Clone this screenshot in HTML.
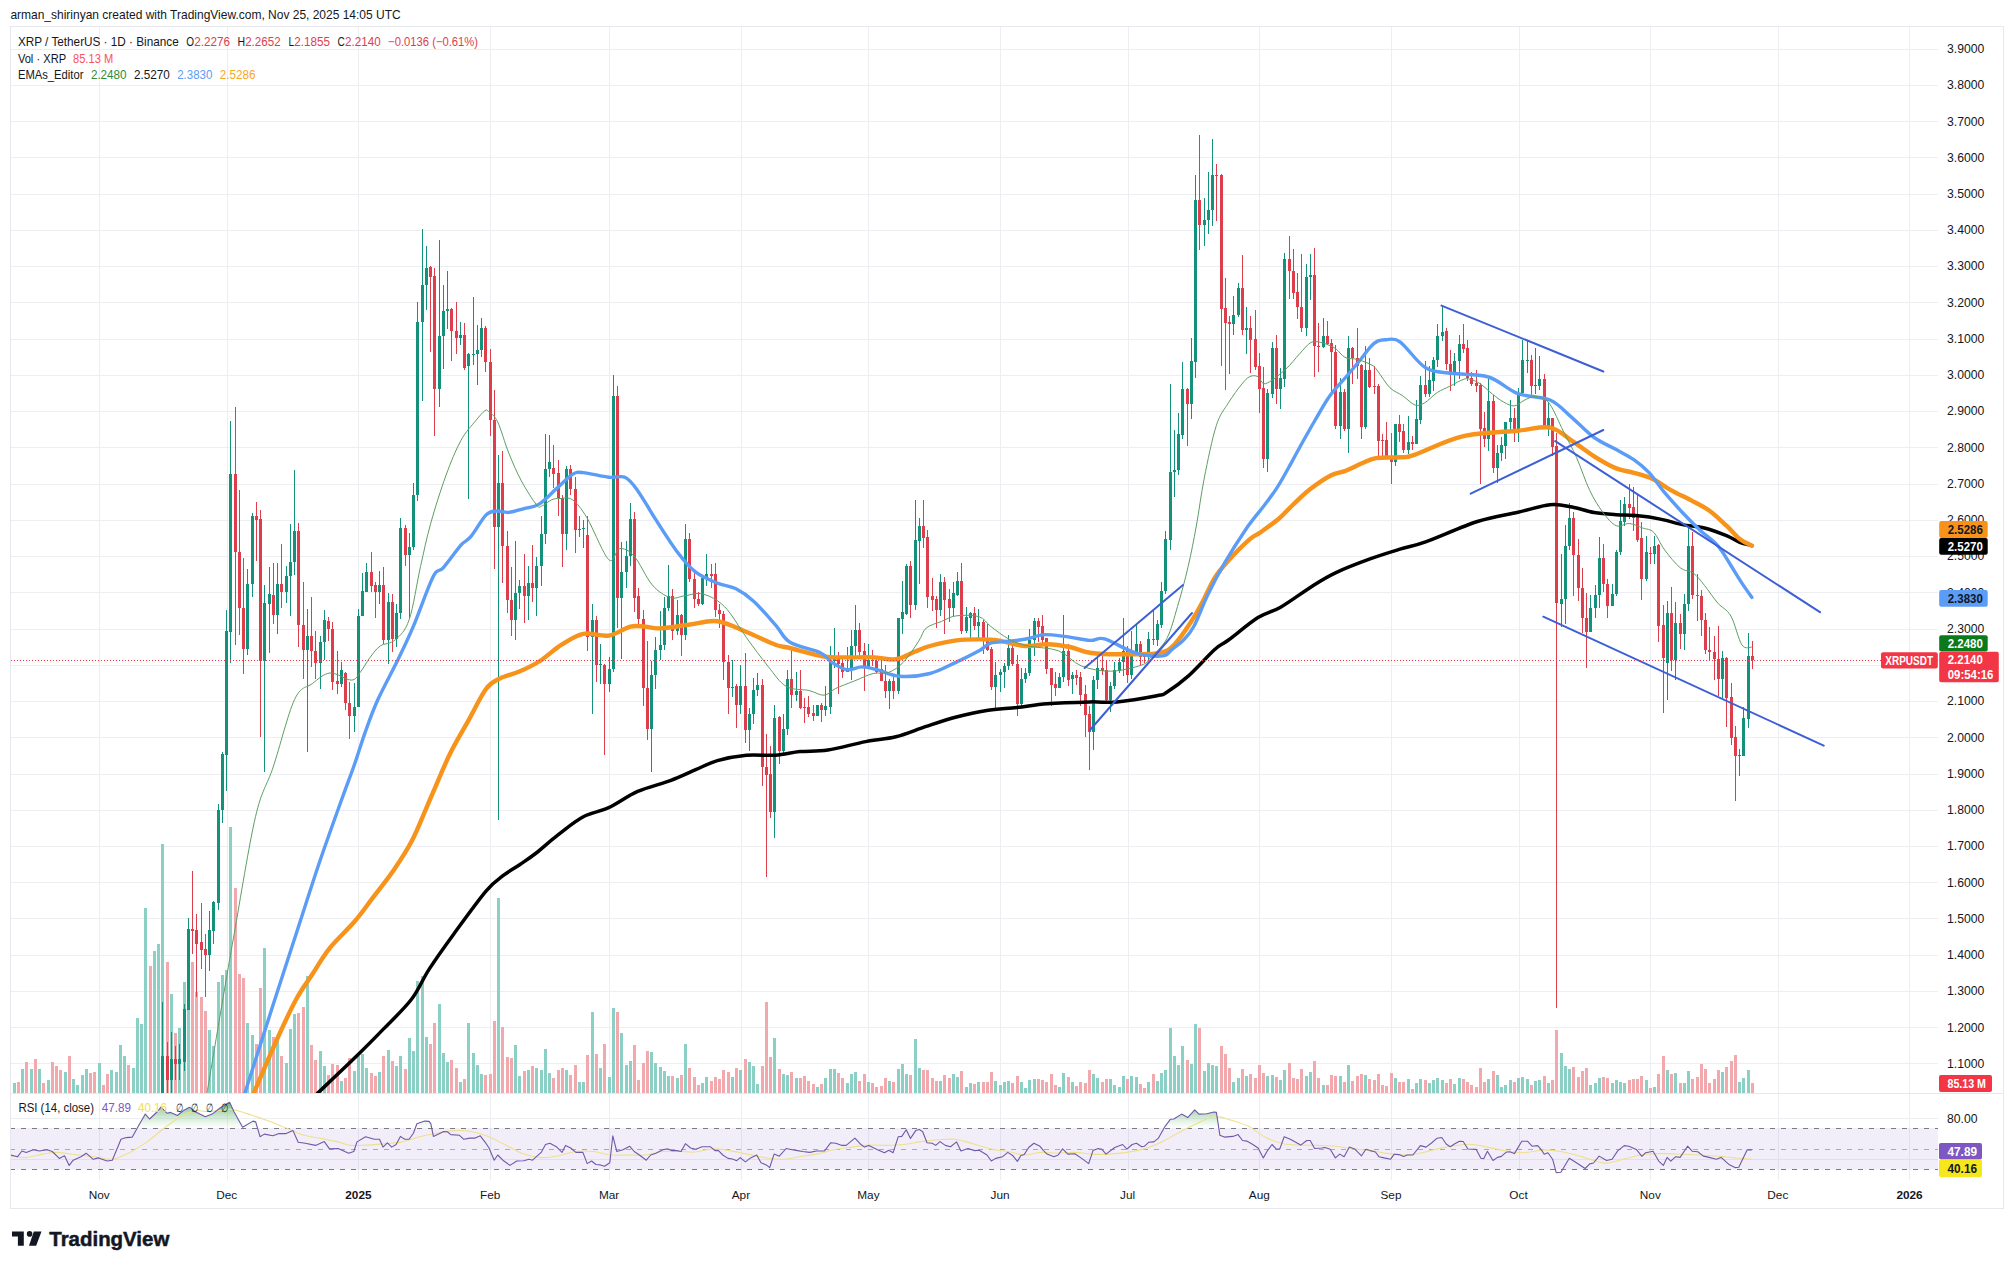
<!DOCTYPE html><html><head><meta charset="utf-8"><style>html,body{margin:0;padding:0;background:#fff;width:2014px;height:1269px;overflow:hidden}svg{display:block}text{font-family:'Liberation Sans',sans-serif}</style></head><body>
<svg width="2014" height="1269" viewBox="0 0 2014 1269">
<rect width="2014" height="1269" fill="#fff"/>
<text x="10.4" y="18.6" font-size="12.2" fill="#131722" textLength="390.3" lengthAdjust="spacingAndGlyphs">arman_shirinyan created with TradingView.com, Nov 25, 2025 14:05 UTC</text>
<rect x="10.5" y="26.5" width="1993" height="1182" fill="none" stroke="#E6E8ED" stroke-width="1"/>
<defs><clipPath id="pp"><rect x="11" y="27" width="1927" height="1066"/></clipPath><clipPath id="rp"><rect x="11" y="1094" width="1927" height="86"/></clipPath><linearGradient id="ob" gradientUnits="userSpaceOnUse" x1="0" y1="1098" x2="0" y2="1128.4"><stop offset="0" stop-color="#3E9F55" stop-opacity="0.95"/><stop offset="1" stop-color="#9ED8A0" stop-opacity="0"/></linearGradient></defs>
<path d="M11 49.5H1938 M11 85.5H1938 M11 121.5H1938 M11 157.5H1938 M11 194.5H1938 M11 230.5H1938 M11 266.5H1938 M11 302.5H1938 M11 339.5H1938 M11 375.5H1938 M11 411.5H1938 M11 447.5H1938 M11 484.5H1938 M11 520.5H1938 M11 556.5H1938 M11 592.5H1938 M11 629.5H1938 M11 665.5H1938 M11 701.5H1938 M11 737.5H1938 M11 774.5H1938 M11 810.5H1938 M11 846.5H1938 M11 882.5H1938 M11 918.5H1938 M11 955.5H1938 M11 991.5H1938 M11 1027.5H1938 M11 1063.5H1938" stroke="#EDEEF2" stroke-width="1" fill="none"/>
<path d="M11 1118.5H1938 M11 1159.5H1938" stroke="#EDEEF2" stroke-width="1"/>
<path d="M99.5 27V1180 M227.5 27V1180 M358.5 27V1180 M490.5 27V1180 M609.5 27V1180 M741.5 27V1180 M868.5 27V1180 M1000.5 27V1180 M1128.5 27V1180 M1259.5 27V1180 M1391.5 27V1180 M1519.5 27V1180 M1650.5 27V1180 M1778.5 27V1180 M1909.5 27V1180" stroke="#EDEEF2" stroke-width="1" fill="none"/>
<path d="M11 1093.5H2003" stroke="#E6E8ED" stroke-width="1"/>
<g clip-path="url(#pp)">
<path d="M8 1070h3V1093h-3Z M13 1083h3V1093h-3Z M21 1069h3V1093h-3Z M30 1069h3V1093h-3Z M38 1069h3V1093h-3Z M47 1080h3V1093h-3Z M64 1072h3V1093h-3Z M72 1079h3V1093h-3Z M76 1085h3V1093h-3Z M81 1075h3V1093h-3Z M85 1069h3V1093h-3Z M98 1063h3V1093h-3Z M110 1070h3V1093h-3Z M115 1072h3V1093h-3Z M119 1045h3V1093h-3Z M123 1056h3V1093h-3Z M132 1068h3V1093h-3Z M136 1018h3V1093h-3Z M140 1024h3V1093h-3Z M144 908h3V1093h-3Z M153 951h3V1093h-3Z M157 944h3V1093h-3Z M161 844h3V1093h-3Z M170 994h3V1093h-3Z M178 1028h3V1093h-3Z M183 982h3V1093h-3Z M187 960h3V1093h-3Z M208 1030h3V1093h-3Z M212 1046h3V1093h-3Z M217 982h3V1093h-3Z M221 975h3V1093h-3Z M225 970h3V1093h-3Z M229 827h3V1093h-3Z M246 1023h3V1093h-3Z M251 1035h3V1093h-3Z M263 948h3V1093h-3Z M268 1030h3V1093h-3Z M276 1041h3V1093h-3Z M285 1063h3V1093h-3Z M289 1029h3V1093h-3Z M293 1014h3V1093h-3Z M306 976h3V1093h-3Z M319 1051h3V1093h-3Z M323 1066h3V1093h-3Z M340 1081h3V1093h-3Z M353 1071h3V1093h-3Z M357 1056h3V1093h-3Z M361 1054h3V1093h-3Z M365 1068h3V1093h-3Z M378 1072h3V1093h-3Z M387 1050h3V1093h-3Z M395 1066h3V1093h-3Z M399 1056h3V1093h-3Z M408 1038h3V1093h-3Z M412 1051h3V1093h-3Z M416 981h3V1093h-3Z M421 976h3V1093h-3Z M425 1037h3V1093h-3Z M438 1004h3V1093h-3Z M442 1053h3V1093h-3Z M446 1062h3V1093h-3Z M459 1082h3V1093h-3Z M467 1023h3V1093h-3Z M472 1053h3V1093h-3Z M476 1065h3V1093h-3Z M480 1074h3V1093h-3Z M497 898h3V1093h-3Z M514 1045h3V1093h-3Z M518 1076h3V1093h-3Z M527 1070h3V1093h-3Z M535 1068h3V1093h-3Z M540 1070h3V1093h-3Z M544 1049h3V1093h-3Z M548 1073h3V1093h-3Z M565 1070h3V1093h-3Z M578 1082h3V1093h-3Z M582 1082h3V1093h-3Z M591 1012h3V1093h-3Z M599 1068h3V1093h-3Z M608 1077h3V1093h-3Z M612 1008h3V1093h-3Z M620 1033h3V1093h-3Z M625 1065h3V1093h-3Z M629 1061h3V1093h-3Z M650 1052h3V1093h-3Z M654 1063h3V1093h-3Z M659 1067h3V1093h-3Z M663 1071h3V1093h-3Z M667 1076h3V1093h-3Z M676 1078h3V1093h-3Z M684 1044h3V1093h-3Z M701 1083h3V1093h-3Z M705 1077h3V1093h-3Z M731 1077h3V1093h-3Z M739 1070h3V1093h-3Z M748 1062h3V1093h-3Z M752 1066h3V1093h-3Z M756 1084h3V1093h-3Z M773 1038h3V1093h-3Z M782 1074h3V1093h-3Z M786 1075h3V1093h-3Z M795 1078h3V1093h-3Z M816 1087h3V1093h-3Z M824 1078h3V1093h-3Z M829 1069h3V1093h-3Z M833 1069h3V1093h-3Z M846 1083h3V1093h-3Z M850 1074h3V1093h-3Z M854 1072h3V1093h-3Z M867 1082h3V1093h-3Z M888 1081h3V1093h-3Z M897 1069h3V1093h-3Z M901 1064h3V1093h-3Z M905 1074h3V1093h-3Z M914 1039h3V1093h-3Z M918 1068h3V1093h-3Z M939 1081h3V1093h-3Z M952 1074h3V1093h-3Z M956 1077h3V1093h-3Z M965 1087h3V1093h-3Z M969 1083h3V1093h-3Z M977 1082h3V1093h-3Z M994 1081h3V1093h-3Z M999 1085h3V1093h-3Z M1003 1082h3V1093h-3Z M1007 1081h3V1093h-3Z M1020 1082h3V1093h-3Z M1024 1088h3V1093h-3Z M1028 1080h3V1093h-3Z M1033 1079h3V1093h-3Z M1058 1087h3V1093h-3Z M1062 1073h3V1093h-3Z M1071 1082h3V1093h-3Z M1092 1074h3V1093h-3Z M1096 1078h3V1093h-3Z M1109 1079h3V1093h-3Z M1113 1085h3V1093h-3Z M1118 1087h3V1093h-3Z M1122 1076h3V1093h-3Z M1130 1076h3V1093h-3Z M1135 1077h3V1093h-3Z M1147 1082h3V1093h-3Z M1156 1081h3V1093h-3Z M1160 1073h3V1093h-3Z M1164 1070h3V1093h-3Z M1169 1028h3V1093h-3Z M1173 1056h3V1093h-3Z M1177 1065h3V1093h-3Z M1181 1046h3V1093h-3Z M1190 1064h3V1093h-3Z M1194 1024h3V1093h-3Z M1203 1071h3V1093h-3Z M1207 1063h3V1093h-3Z M1211 1065h3V1093h-3Z M1215 1066h3V1093h-3Z M1232 1082h3V1093h-3Z M1237 1078h3V1093h-3Z M1245 1076h3V1093h-3Z M1266 1076h3V1093h-3Z M1271 1075h3V1093h-3Z M1279 1080h3V1093h-3Z M1283 1070h3V1093h-3Z M1305 1076h3V1093h-3Z M1309 1072h3V1093h-3Z M1322 1085h3V1093h-3Z M1339 1076h3V1093h-3Z M1347 1065h3V1093h-3Z M1364 1075h3V1093h-3Z M1394 1078h3V1093h-3Z M1407 1079h3V1093h-3Z M1415 1083h3V1093h-3Z M1419 1079h3V1093h-3Z M1428 1083h3V1093h-3Z M1432 1080h3V1093h-3Z M1436 1078h3V1093h-3Z M1441 1080h3V1093h-3Z M1453 1084h3V1093h-3Z M1458 1078h3V1093h-3Z M1487 1079h3V1093h-3Z M1496 1075h3V1093h-3Z M1500 1087h3V1093h-3Z M1504 1085h3V1093h-3Z M1509 1080h3V1093h-3Z M1517 1078h3V1093h-3Z M1521 1077h3V1093h-3Z M1526 1079h3V1093h-3Z M1534 1081h3V1093h-3Z M1538 1080h3V1093h-3Z M1547 1083h3V1093h-3Z M1560 1053h3V1093h-3Z M1564 1066h3V1093h-3Z M1568 1069h3V1093h-3Z M1589 1085h3V1093h-3Z M1594 1083h3V1093h-3Z M1598 1078h3V1093h-3Z M1611 1083h3V1093h-3Z M1615 1080h3V1093h-3Z M1619 1082h3V1093h-3Z M1623 1083h3V1093h-3Z M1645 1080h3V1093h-3Z M1653 1087h3V1093h-3Z M1666 1070h3V1093h-3Z M1674 1073h3V1093h-3Z M1683 1083h3V1093h-3Z M1687 1071h3V1093h-3Z M1721 1072h3V1093h-3Z M1738 1082h3V1093h-3Z M1742 1078h3V1093h-3Z M1747 1070h3V1093h-3Z" fill="#8CCFC4"/>
<path d="M17 1082h3V1093h-3Z M25 1062h3V1093h-3Z M34 1059h3V1093h-3Z M42 1083h3V1093h-3Z M51 1062h3V1093h-3Z M55 1066h3V1093h-3Z M59 1070h3V1093h-3Z M68 1056h3V1093h-3Z M89 1073h3V1093h-3Z M93 1072h3V1093h-3Z M102 1085h3V1093h-3Z M106 1074h3V1093h-3Z M127 1065h3V1093h-3Z M149 966h3V1093h-3Z M166 962h3V1093h-3Z M174 1033h3V1093h-3Z M191 962h3V1093h-3Z M195 992h3V1093h-3Z M200 997h3V1093h-3Z M204 1011h3V1093h-3Z M234 888h3V1093h-3Z M238 974h3V1093h-3Z M242 978h3V1093h-3Z M255 1044h3V1093h-3Z M259 988h3V1093h-3Z M272 1037h3V1093h-3Z M280 1056h3V1093h-3Z M297 1013h3V1093h-3Z M302 1007h3V1093h-3Z M310 1045h3V1093h-3Z M314 1060h3V1093h-3Z M327 1075h3V1093h-3Z M331 1064h3V1093h-3Z M336 1065h3V1093h-3Z M344 1078h3V1093h-3Z M348 1058h3V1093h-3Z M370 1073h3V1093h-3Z M374 1076h3V1093h-3Z M382 1056h3V1093h-3Z M391 1061h3V1093h-3Z M404 1069h3V1093h-3Z M429 1044h3V1093h-3Z M433 1023h3V1093h-3Z M450 1060h3V1093h-3Z M455 1068h3V1093h-3Z M463 1079h3V1093h-3Z M484 1075h3V1093h-3Z M489 1074h3V1093h-3Z M493 1021h3V1093h-3Z M501 1027h3V1093h-3Z M506 1057h3V1093h-3Z M510 1058h3V1093h-3Z M523 1071h3V1093h-3Z M531 1066h3V1093h-3Z M552 1078h3V1093h-3Z M557 1070h3V1093h-3Z M561 1068h3V1093h-3Z M569 1075h3V1093h-3Z M574 1065h3V1093h-3Z M586 1055h3V1093h-3Z M595 1054h3V1093h-3Z M603 1044h3V1093h-3Z M616 1012h3V1093h-3Z M633 1045h3V1093h-3Z M637 1080h3V1093h-3Z M642 1063h3V1093h-3Z M646 1051h3V1093h-3Z M671 1076h3V1093h-3Z M680 1075h3V1093h-3Z M688 1068h3V1093h-3Z M693 1077h3V1093h-3Z M697 1085h3V1093h-3Z M710 1081h3V1093h-3Z M714 1077h3V1093h-3Z M718 1079h3V1093h-3Z M722 1070h3V1093h-3Z M727 1072h3V1093h-3Z M735 1068h3V1093h-3Z M744 1059h3V1093h-3Z M761 1066h3V1093h-3Z M765 1002h3V1093h-3Z M769 1057h3V1093h-3Z M778 1069h3V1093h-3Z M790 1072h3V1093h-3Z M799 1078h3V1093h-3Z M803 1076h3V1093h-3Z M807 1081h3V1093h-3Z M812 1084h3V1093h-3Z M820 1084h3V1093h-3Z M837 1073h3V1093h-3Z M841 1078h3V1093h-3Z M858 1081h3V1093h-3Z M863 1074h3V1093h-3Z M871 1083h3V1093h-3Z M875 1087h3V1093h-3Z M880 1086h3V1093h-3Z M884 1078h3V1093h-3Z M892 1082h3V1093h-3Z M909 1075h3V1093h-3Z M922 1070h3V1093h-3Z M926 1070h3V1093h-3Z M931 1078h3V1093h-3Z M935 1081h3V1093h-3Z M943 1075h3V1093h-3Z M948 1078h3V1093h-3Z M960 1071h3V1093h-3Z M973 1084h3V1093h-3Z M982 1082h3V1093h-3Z M986 1082h3V1093h-3Z M990 1072h3V1093h-3Z M1011 1083h3V1093h-3Z M1016 1076h3V1093h-3Z M1037 1079h3V1093h-3Z M1041 1080h3V1093h-3Z M1045 1082h3V1093h-3Z M1050 1074h3V1093h-3Z M1054 1085h3V1093h-3Z M1067 1077h3V1093h-3Z M1075 1086h3V1093h-3Z M1079 1082h3V1093h-3Z M1084 1083h3V1093h-3Z M1088 1070h3V1093h-3Z M1101 1082h3V1093h-3Z M1105 1079h3V1093h-3Z M1126 1079h3V1093h-3Z M1139 1084h3V1093h-3Z M1143 1088h3V1093h-3Z M1152 1074h3V1093h-3Z M1186 1060h3V1093h-3Z M1198 1028h3V1093h-3Z M1220 1046h3V1093h-3Z M1224 1054h3V1093h-3Z M1228 1068h3V1093h-3Z M1241 1069h3V1093h-3Z M1249 1074h3V1093h-3Z M1254 1078h3V1093h-3Z M1258 1065h3V1093h-3Z M1262 1073h3V1093h-3Z M1275 1077h3V1093h-3Z M1288 1063h3V1093h-3Z M1292 1078h3V1093h-3Z M1296 1079h3V1093h-3Z M1300 1069h3V1093h-3Z M1313 1061h3V1093h-3Z M1317 1078h3V1093h-3Z M1326 1085h3V1093h-3Z M1330 1075h3V1093h-3Z M1334 1076h3V1093h-3Z M1343 1082h3V1093h-3Z M1351 1081h3V1093h-3Z M1356 1076h3V1093h-3Z M1360 1074h3V1093h-3Z M1368 1079h3V1093h-3Z M1373 1080h3V1093h-3Z M1377 1074h3V1093h-3Z M1381 1085h3V1093h-3Z M1385 1086h3V1093h-3Z M1390 1073h3V1093h-3Z M1398 1082h3V1093h-3Z M1402 1082h3V1093h-3Z M1411 1089h3V1093h-3Z M1424 1080h3V1093h-3Z M1445 1083h3V1093h-3Z M1449 1079h3V1093h-3Z M1462 1079h3V1093h-3Z M1466 1082h3V1093h-3Z M1470 1085h3V1093h-3Z M1475 1087h3V1093h-3Z M1479 1068h3V1093h-3Z M1483 1082h3V1093h-3Z M1492 1071h3V1093h-3Z M1513 1082h3V1093h-3Z M1530 1085h3V1093h-3Z M1543 1076h3V1093h-3Z M1551 1080h3V1093h-3Z M1555 1030h3V1093h-3Z M1572 1067h3V1093h-3Z M1577 1077h3V1093h-3Z M1581 1071h3V1093h-3Z M1585 1068h3V1093h-3Z M1602 1077h3V1093h-3Z M1606 1078h3V1093h-3Z M1628 1080h3V1093h-3Z M1632 1079h3V1093h-3Z M1636 1079h3V1093h-3Z M1640 1076h3V1093h-3Z M1649 1088h3V1093h-3Z M1657 1074h3V1093h-3Z M1662 1056h3V1093h-3Z M1670 1074h3V1093h-3Z M1679 1083h3V1093h-3Z M1691 1079h3V1093h-3Z M1696 1077h3V1093h-3Z M1700 1064h3V1093h-3Z M1704 1069h3V1093h-3Z M1708 1083h3V1093h-3Z M1713 1079h3V1093h-3Z M1717 1070h3V1093h-3Z M1725 1067h3V1093h-3Z M1730 1061h3V1093h-3Z M1734 1055h3V1093h-3Z M1751 1083h3V1093h-3Z" fill="#F2A9AE"/>
<path d="M162 1002h1V1093h-1Z M171 1032h1V1093h-1Z M179 1044h1V1080h-1Z M184 1004h1V1071h-1Z M188 918h1V1010h-1Z M209 911h1V971h-1Z M213 901h1V944h-1Z M218 804h1V910h-1Z M222 752h1V823h-1Z M226 610h1V791h-1Z M230 421h1V663h-1Z M247 569h1V655h-1Z M252 513h1V597h-1Z M264 585h1V772h-1Z M269 567h1V653h-1Z M277 563h1V634h-1Z M286 566h1V603h-1Z M290 524h1V616h-1Z M294 470h1V575h-1Z M307 609h1V752h-1Z M320 636h1V689h-1Z M324 610h1V660h-1Z M341 662h1V687h-1Z M354 683h1V732h-1Z M358 609h1V707h-1Z M362 573h1V616h-1Z M366 563h1V592h-1Z M379 571h1V604h-1Z M388 593h1V664h-1Z M396 604h1V647h-1Z M400 518h1V619h-1Z M409 533h1V618h-1Z M413 483h1V550h-1Z M417 302h1V501h-1Z M422 229h1V401h-1Z M426 246h1V310h-1Z M439 240h1V407h-1Z M443 285h1V369h-1Z M447 271h1V329h-1Z M460 322h1V345h-1Z M468 353h1V499h-1Z M473 297h1V365h-1Z M477 325h1V385h-1Z M481 318h1V357h-1Z M498 455h1V820h-1Z M515 541h1V640h-1Z M519 580h1V609h-1Z M528 566h1V620h-1Z M536 557h1V616h-1Z M541 516h1V586h-1Z M545 434h1V544h-1Z M549 435h1V477h-1Z M566 466h1V550h-1Z M579 516h1V537h-1Z M583 520h1V548h-1Z M592 604h1V714h-1Z M600 644h1V684h-1Z M609 657h1V692h-1Z M613 375h1V672h-1Z M621 542h1V659h-1Z M626 541h1V588h-1Z M630 503h1V566h-1Z M651 661h1V772h-1Z M655 637h1V689h-1Z M660 611h1V660h-1Z M664 597h1V650h-1Z M668 565h1V611h-1Z M677 600h1V635h-1Z M685 524h1V640h-1Z M702 577h1V605h-1Z M706 554h1V586h-1Z M732 660h1V697h-1Z M740 665h1V714h-1Z M749 708h1V751h-1Z M753 678h1V724h-1Z M757 673h1V696h-1Z M774 705h1V838h-1Z M783 714h1V756h-1Z M787 670h1V735h-1Z M796 672h1V701h-1Z M817 705h1V716h-1Z M825 686h1V716h-1Z M830 646h1V714h-1Z M834 628h1V668h-1Z M847 647h1V672h-1Z M851 630h1V680h-1Z M855 605h1V658h-1Z M868 644h1V668h-1Z M889 679h1V709h-1Z M898 618h1V694h-1Z M902 581h1V634h-1Z M906 564h1V615h-1Z M915 500h1V610h-1Z M919 518h1V584h-1Z M940 574h1V616h-1Z M953 582h1V616h-1Z M957 572h1V596h-1Z M966 607h1V633h-1Z M970 612h1V641h-1Z M978 609h1V640h-1Z M995 662h1V708h-1Z M1000 669h1V692h-1Z M1004 663h1V688h-1Z M1008 635h1V670h-1Z M1021 668h1V708h-1Z M1025 668h1V683h-1Z M1029 629h1V676h-1Z M1034 618h1V656h-1Z M1059 673h1V688h-1Z M1063 615h1V682h-1Z M1072 672h1V694h-1Z M1093 676h1V750h-1Z M1097 658h1V689h-1Z M1110 682h1V712h-1Z M1114 662h1V689h-1Z M1119 658h1V673h-1Z M1123 618h1V676h-1Z M1131 631h1V679h-1Z M1136 625h1V656h-1Z M1148 632h1V660h-1Z M1157 620h1V646h-1Z M1161 582h1V628h-1Z M1165 531h1V594h-1Z M1170 384h1V550h-1Z M1174 430h1V497h-1Z M1178 413h1V475h-1Z M1182 362h1V439h-1Z M1191 338h1V419h-1Z M1195 175h1V378h-1Z M1204 198h1V246h-1Z M1208 172h1V234h-1Z M1212 139h1V226h-1Z M1233 296h1V335h-1Z M1238 283h1V317h-1Z M1246 307h1V354h-1Z M1267 389h1V472h-1Z M1272 342h1V398h-1Z M1280 368h1V409h-1Z M1284 253h1V387h-1Z M1306 264h1V336h-1Z M1310 254h1V300h-1Z M1323 318h1V348h-1Z M1340 378h1V439h-1Z M1348 336h1V453h-1Z M1365 346h1V429h-1Z M1395 424h1V466h-1Z M1408 416h1V454h-1Z M1416 400h1V444h-1Z M1420 376h1V424h-1Z M1429 366h1V397h-1Z M1433 357h1V391h-1Z M1437 324h1V367h-1Z M1442 306h1V341h-1Z M1454 353h1V386h-1Z M1459 335h1V379h-1Z M1488 376h1V451h-1Z M1497 445h1V483h-1Z M1501 437h1V461h-1Z M1505 422h1V459h-1Z M1510 400h1V430h-1Z M1518 388h1V442h-1Z M1522 340h1V396h-1Z M1527 341h1V373h-1Z M1535 348h1V394h-1Z M1539 356h1V390h-1Z M1548 402h1V436h-1Z M1561 554h1V627h-1Z M1565 525h1V624h-1Z M1569 503h1V550h-1Z M1590 595h1V632h-1Z M1595 585h1V618h-1Z M1599 537h1V608h-1Z M1612 584h1V606h-1Z M1616 550h1V596h-1Z M1620 500h1V555h-1Z M1624 497h1V526h-1Z M1646 536h1V581h-1Z M1654 536h1V564h-1Z M1667 601h1V700h-1Z M1675 602h1V680h-1Z M1684 594h1V650h-1Z M1688 527h1V611h-1Z M1722 651h1V698h-1Z M1739 749h1V776h-1Z M1743 707h1V756h-1Z M1748 633h1V728h-1Z" fill="#13917B"/>
<path d="M167 1042h1V1093h-1Z M175 1046h1V1080h-1Z M192 871h1V954h-1Z M196 914h1V997h-1Z M201 903h1V969h-1Z M205 934h1V997h-1Z M235 407h1V645h-1Z M239 490h1V635h-1Z M243 558h1V674h-1Z M256 502h1V561h-1Z M260 510h1V737h-1Z M273 563h1V624h-1Z M281 544h1V608h-1Z M298 523h1V647h-1Z M303 582h1V679h-1Z M311 597h1V667h-1Z M315 631h1V679h-1Z M328 617h1V641h-1Z M332 622h1V690h-1Z M337 651h1V694h-1Z M345 672h1V710h-1Z M349 682h1V739h-1Z M371 552h1V592h-1Z M375 582h1V618h-1Z M383 567h1V644h-1Z M392 594h1V652h-1Z M405 525h1V566h-1Z M430 266h1V352h-1Z M434 268h1V436h-1Z M451 308h1V361h-1Z M456 302h1V354h-1Z M464 323h1V370h-1Z M485 326h1V372h-1Z M490 349h1V436h-1Z M494 390h1V569h-1Z M502 451h1V583h-1Z M507 531h1V613h-1Z M511 567h1V636h-1Z M524 554h1V623h-1Z M532 545h1V602h-1Z M553 445h1V488h-1Z M558 460h1V516h-1Z M562 495h1V567h-1Z M570 465h1V495h-1Z M575 477h1V553h-1Z M587 516h1V651h-1Z M596 616h1V682h-1Z M604 664h1V755h-1Z M617 386h1V628h-1Z M634 512h1V612h-1Z M638 588h1V627h-1Z M643 610h1V706h-1Z M647 641h1V740h-1Z M672 589h1V640h-1Z M681 614h1V656h-1Z M689 533h1V582h-1Z M694 569h1V608h-1Z M698 592h1V606h-1Z M711 564h1V588h-1Z M715 563h1V617h-1Z M719 604h1V628h-1Z M723 611h1V680h-1Z M728 655h1V714h-1Z M736 684h1V728h-1Z M745 653h1V743h-1Z M762 679h1V786h-1Z M766 734h1V877h-1Z M770 746h1V818h-1Z M779 716h1V764h-1Z M791 647h1V708h-1Z M800 670h1V709h-1Z M804 698h1V723h-1Z M808 696h1V717h-1Z M813 705h1V721h-1Z M821 703h1V722h-1Z M838 652h1V694h-1Z M842 658h1V678h-1Z M859 623h1V657h-1Z M864 643h1V691h-1Z M872 650h1V666h-1Z M876 658h1V673h-1Z M881 658h1V681h-1Z M885 665h1V698h-1Z M893 676h1V699h-1Z M910 561h1V618h-1Z M923 500h1V548h-1Z M927 530h1V608h-1Z M932 578h1V611h-1Z M936 596h1V628h-1Z M944 577h1V634h-1Z M949 589h1V622h-1Z M961 563h1V634h-1Z M974 607h1V630h-1Z M983 620h1V654h-1Z M987 624h1V651h-1Z M991 647h1V690h-1Z M1012 640h1V666h-1Z M1017 655h1V716h-1Z M1038 618h1V642h-1Z M1042 615h1V645h-1Z M1046 638h1V674h-1Z M1051 668h1V706h-1Z M1055 672h1V696h-1Z M1068 644h1V686h-1Z M1076 670h1V685h-1Z M1080 672h1V706h-1Z M1085 685h1V737h-1Z M1089 706h1V770h-1Z M1102 655h1V675h-1Z M1106 660h1V701h-1Z M1127 646h1V683h-1Z M1140 641h1V665h-1Z M1144 653h1V663h-1Z M1153 610h1V645h-1Z M1187 388h1V446h-1Z M1199 135h1V250h-1Z M1216 164h1V221h-1Z M1221 174h1V366h-1Z M1225 278h1V390h-1Z M1229 316h1V374h-1Z M1242 255h1V335h-1Z M1250 316h1V373h-1Z M1255 310h1V370h-1Z M1259 353h1V413h-1Z M1263 367h1V468h-1Z M1276 335h1V404h-1Z M1289 236h1V299h-1Z M1293 249h1V299h-1Z M1297 273h1V319h-1Z M1301 254h1V332h-1Z M1314 248h1V377h-1Z M1318 323h1V372h-1Z M1327 321h1V345h-1Z M1331 339h1V395h-1Z M1335 345h1V429h-1Z M1344 389h1V431h-1Z M1352 347h1V384h-1Z M1357 328h1V379h-1Z M1361 364h1V439h-1Z M1369 358h1V388h-1Z M1374 366h1V394h-1Z M1378 384h1V457h-1Z M1382 434h1V460h-1Z M1386 422h1V459h-1Z M1391 433h1V484h-1Z M1399 415h1V442h-1Z M1403 424h1V453h-1Z M1412 436h1V450h-1Z M1425 361h1V397h-1Z M1446 328h1V370h-1Z M1450 350h1V391h-1Z M1463 324h1V353h-1Z M1467 340h1V381h-1Z M1471 372h1V386h-1Z M1476 370h1V392h-1Z M1480 383h1V484h-1Z M1484 412h1V447h-1Z M1493 395h1V473h-1Z M1514 408h1V442h-1Z M1531 355h1V396h-1Z M1544 374h1V428h-1Z M1552 418h1V456h-1Z M1556 433h1V1008h-1Z M1573 512h1V596h-1Z M1578 539h1V601h-1Z M1582 568h1V633h-1Z M1586 593h1V668h-1Z M1603 544h1V592h-1Z M1607 579h1V618h-1Z M1629 484h1V519h-1Z M1633 487h1V531h-1Z M1637 495h1V542h-1Z M1641 522h1V600h-1Z M1650 547h1V564h-1Z M1658 544h1V642h-1Z M1663 605h1V713h-1Z M1671 587h1V671h-1Z M1680 614h1V649h-1Z M1692 532h1V599h-1Z M1697 574h1V621h-1Z M1701 590h1V636h-1Z M1705 613h1V654h-1Z M1709 627h1V660h-1Z M1714 636h1V680h-1Z M1718 626h1V696h-1Z M1726 657h1V727h-1Z M1731 683h1V745h-1Z M1735 726h1V801h-1Z M1752 641h1V669h-1Z" fill="#DE3E4C"/>
<path d="M161 1056h3V1093h-3Z M170 1059h3V1080h-3Z M178 1059h3V1064h-3Z M183 1009h3V1062h-3Z M187 929h3V1010h-3Z M208 930h3V955h-3Z M212 902h3V931h-3Z M217 810h3V903h-3Z M221 754h3V810h-3Z M225 631h3V755h-3Z M229 474h3V632h-3Z M246 584h3V649h-3Z M251 516h3V584h-3Z M263 603h3V661h-3Z M268 594h3V604h-3Z M276 584h3V615h-3Z M285 576h3V592h-3Z M289 562h3V576h-3Z M293 531h3V562h-3Z M306 636h3V650h-3Z M319 642h3V663h-3Z M323 620h3V642h-3Z M340 670h3V684h-3Z M353 707h3V716h-3Z M357 616h3V707h-3Z M361 591h3V616h-3Z M365 572h3V592h-3Z M378 585h3V592h-3Z M387 602h3V640h-3Z M395 613h3V639h-3Z M399 528h3V613h-3Z M408 547h3V555h-3Z M412 495h3V547h-3Z M416 322h3V495h-3Z M421 285h3V322h-3Z M425 268h3V285h-3Z M438 336h3V389h-3Z M442 311h3V336h-3Z M446 309h3V311h-3Z M459 335h3V338h-3Z M467 354h3V366h-3Z M472 354h3V355h-3Z M476 350h3V354h-3Z M480 328h3V350h-3Z M497 483h3V527h-3Z M514 593h3V620h-3Z M518 586h3V593h-3Z M527 583h3V596h-3Z M535 566h3V588h-3Z M540 534h3V566h-3Z M544 469h3V534h-3Z M548 462h3V469h-3Z M565 469h3V534h-3Z M578 529h3V530h-3Z M582 528h3V529h-3Z M591 620h3V637h-3Z M599 664h3V665h-3Z M608 669h3V684h-3Z M612 396h3V669h-3Z M620 572h3V598h-3Z M625 556h3V572h-3Z M629 519h3V556h-3Z M650 675h3V729h-3Z M654 650h3V675h-3Z M659 645h3V650h-3Z M663 608h3V645h-3Z M667 596h3V608h-3Z M676 615h3V631h-3Z M684 539h3V635h-3Z M701 578h3V604h-3Z M705 574h3V578h-3Z M731 687h3V688h-3Z M739 686h3V705h-3Z M748 714h3V730h-3Z M752 690h3V714h-3Z M756 685h3V690h-3Z M773 718h3V812h-3Z M782 729h3V751h-3Z M786 679h3V729h-3Z M795 691h3V695h-3Z M816 705h3V716h-3Z M824 706h3V710h-3Z M829 660h3V707h-3Z M833 659h3V661h-3Z M846 669h3V672h-3Z M850 646h3V669h-3Z M854 630h3V646h-3Z M867 660h3V668h-3Z M888 681h3V691h-3Z M897 618h3V691h-3Z M901 612h3V619h-3Z M905 566h3V614h-3Z M914 540h3V605h-3Z M918 526h3V541h-3Z M939 582h3V610h-3Z M952 593h3V608h-3Z M956 581h3V595h-3Z M965 617h3V631h-3Z M969 613h3V618h-3Z M977 622h3V626h-3Z M994 675h3V687h-3Z M999 672h3V675h-3Z M1003 666h3V672h-3Z M1007 648h3V666h-3Z M1020 679h3V704h-3Z M1024 673h3V679h-3Z M1028 640h3V673h-3Z M1033 621h3V640h-3Z M1058 677h3V688h-3Z M1062 651h3V677h-3Z M1071 675h3V679h-3Z M1092 680h3V732h-3Z M1096 668h3V680h-3Z M1109 686h3V700h-3Z M1113 670h3V686h-3Z M1118 662h3V671h-3Z M1122 651h3V662h-3Z M1130 652h3V675h-3Z M1135 644h3V652h-3Z M1147 639h3V657h-3Z M1156 624h3V640h-3Z M1160 591h3V625h-3Z M1164 539h3V591h-3Z M1169 472h3V540h-3Z M1173 470h3V472h-3Z M1177 434h3V470h-3Z M1181 389h3V435h-3Z M1190 361h3V404h-3Z M1194 200h3V362h-3Z M1203 220h3V225h-3Z M1207 210h3V220h-3Z M1211 175h3V210h-3Z M1232 315h3V324h-3Z M1237 288h3V315h-3Z M1245 328h3V330h-3Z M1266 393h3V459h-3Z M1271 348h3V394h-3Z M1279 378h3V389h-3Z M1283 259h3V379h-3Z M1305 277h3V328h-3Z M1309 275h3V277h-3Z M1322 336h3V347h-3Z M1339 392h3V426h-3Z M1347 348h3V429h-3Z M1364 370h3V427h-3Z M1394 424h3V462h-3Z M1407 442h3V450h-3Z M1415 419h3V444h-3Z M1419 385h3V420h-3Z M1428 380h3V394h-3Z M1432 360h3V381h-3Z M1436 336h3V360h-3Z M1441 332h3V336h-3Z M1453 361h3V375h-3Z M1458 344h3V361h-3Z M1487 401h3V439h-3Z M1496 453h3V468h-3Z M1500 445h3V453h-3Z M1504 422h3V446h-3Z M1509 418h3V422h-3Z M1517 393h3V430h-3Z M1521 360h3V393h-3Z M1526 360h3V361h-3Z M1534 385h3V386h-3Z M1538 379h3V386h-3Z M1547 418h3V428h-3Z M1560 599h3V604h-3Z M1564 546h3V599h-3Z M1568 518h3V546h-3Z M1589 608h3V632h-3Z M1594 595h3V608h-3Z M1598 558h3V595h-3Z M1611 594h3V606h-3Z M1615 552h3V594h-3Z M1619 521h3V552h-3Z M1623 504h3V522h-3Z M1645 552h3V579h-3Z M1653 546h3V554h-3Z M1666 613h3V663h-3Z M1674 623h3V660h-3Z M1683 604h3V634h-3Z M1687 546h3V604h-3Z M1721 658h3V679h-3Z M1738 755h3V756h-3Z M1742 718h3V756h-3Z M1747 656h3V719h-3Z" fill="#13917B"/>
<path d="M166 1056h3V1080h-3Z M174 1059h3V1064h-3Z M191 929h3V931h-3Z M195 930h3V944h-3Z M200 942h3V950h-3Z M204 949h3V955h-3Z M234 474h3V552h-3Z M238 552h3V608h-3Z M242 608h3V649h-3Z M255 516h3V520h-3Z M259 519h3V661h-3Z M272 595h3V615h-3Z M280 584h3V592h-3Z M297 531h3V625h-3Z M302 625h3V650h-3Z M310 636h3V651h-3Z M314 651h3V663h-3Z M327 621h3V629h-3Z M331 629h3V682h-3Z M336 681h3V684h-3Z M344 673h3V703h-3Z M348 703h3V716h-3Z M370 572h3V586h-3Z M374 585h3V592h-3Z M382 585h3V640h-3Z M391 602h3V639h-3Z M404 528h3V555h-3Z M429 267h3V277h-3Z M433 276h3V389h-3Z M450 309h3V331h-3Z M455 331h3V338h-3Z M463 335h3V368h-3Z M484 328h3V362h-3Z M489 362h3V420h-3Z M493 420h3V527h-3Z M501 483h3V546h-3Z M506 546h3V600h-3Z M510 600h3V620h-3Z M523 586h3V596h-3Z M531 583h3V588h-3Z M552 468h3V474h-3Z M557 473h3V498h-3Z M561 498h3V534h-3Z M569 469h3V489h-3Z M574 489h3V530h-3Z M586 535h3V637h-3Z M595 620h3V665h-3Z M603 665h3V684h-3Z M616 396h3V598h-3Z M633 519h3V598h-3Z M637 596h3V619h-3Z M642 619h3V688h-3Z M646 688h3V729h-3Z M671 596h3V631h-3Z M680 615h3V635h-3Z M688 539h3V579h-3Z M693 579h3V599h-3Z M697 599h3V604h-3Z M710 574h3V576h-3Z M714 574h3V610h-3Z M718 610h3V614h-3Z M722 614h3V662h-3Z M727 662h3V688h-3Z M735 686h3V705h-3Z M744 686h3V730h-3Z M761 685h3V767h-3Z M765 767h3V775h-3Z M769 774h3V812h-3Z M778 717h3V751h-3Z M790 679h3V695h-3Z M799 691h3V708h-3Z M803 707h3V708h-3Z M807 707h3V714h-3Z M812 713h3V716h-3Z M820 705h3V710h-3Z M837 659h3V664h-3Z M841 663h3V672h-3Z M858 630h3V652h-3Z M863 651h3V668h-3Z M871 660h3V661h-3Z M875 661h3V672h-3Z M880 669h3V681h-3Z M884 681h3V691h-3Z M892 681h3V691h-3Z M909 566h3V605h-3Z M922 526h3V538h-3Z M926 537h3V597h-3Z M931 596h3V600h-3Z M935 599h3V610h-3Z M943 582h3V600h-3Z M948 599h3V608h-3Z M960 581h3V631h-3Z M973 613h3V626h-3Z M982 622h3V639h-3Z M986 638h3V650h-3Z M990 649h3V687h-3Z M1011 648h3V664h-3Z M1016 664h3V704h-3Z M1037 621h3V627h-3Z M1041 626h3V640h-3Z M1045 638h3V669h-3Z M1050 668h3V685h-3Z M1054 684h3V688h-3Z M1067 651h3V680h-3Z M1075 675h3V678h-3Z M1079 677h3V695h-3Z M1084 694h3V715h-3Z M1088 714h3V732h-3Z M1101 668h3V671h-3Z M1105 670h3V700h-3Z M1126 651h3V675h-3Z M1139 644h3V657h-3Z M1143 655h3V657h-3Z M1152 639h3V640h-3Z M1186 389h3V404h-3Z M1198 200h3V225h-3Z M1215 175h3V176h-3Z M1220 175h3V309h-3Z M1224 308h3V323h-3Z M1228 322h3V324h-3Z M1241 288h3V330h-3Z M1249 328h3V340h-3Z M1254 339h3V367h-3Z M1258 366h3V389h-3Z M1262 388h3V459h-3Z M1275 348h3V389h-3Z M1288 259h3V271h-3Z M1292 271h3V293h-3Z M1296 292h3V307h-3Z M1300 307h3V328h-3Z M1313 275h3V346h-3Z M1317 346h3V347h-3Z M1326 336h3V344h-3Z M1330 343h3V352h-3Z M1334 352h3V426h-3Z M1343 392h3V429h-3Z M1351 348h3V358h-3Z M1356 358h3V366h-3Z M1360 365h3V427h-3Z M1368 370h3V387h-3Z M1373 386h3V387h-3Z M1377 386h3V441h-3Z M1381 440h3V441h-3Z M1385 440h3V457h-3Z M1390 457h3V462h-3Z M1398 424h3V432h-3Z M1402 431h3V450h-3Z M1411 442h3V444h-3Z M1424 385h3V394h-3Z M1445 331h3V364h-3Z M1449 364h3V375h-3Z M1462 344h3V349h-3Z M1466 348h3V378h-3Z M1470 378h3V384h-3Z M1475 383h3V386h-3Z M1479 385h3V429h-3Z M1483 428h3V439h-3Z M1492 401h3V468h-3Z M1513 418h3V430h-3Z M1530 360h3V386h-3Z M1543 379h3V428h-3Z M1551 418h3V447h-3Z M1555 446h3V603h-3Z M1572 518h3V555h-3Z M1577 555h3V588h-3Z M1581 588h3V618h-3Z M1585 618h3V632h-3Z M1602 558h3V584h-3Z M1606 584h3V606h-3Z M1628 504h3V508h-3Z M1632 507h3V518h-3Z M1636 517h3V540h-3Z M1640 538h3V579h-3Z M1649 553h3V554h-3Z M1657 545h3V626h-3Z M1662 625h3V658h-3Z M1670 613h3V660h-3Z M1679 623h3V634h-3Z M1691 546h3V595h-3Z M1696 595h3V596h-3Z M1700 596h3V620h-3Z M1704 620h3V650h-3Z M1708 650h3V652h-3Z M1713 652h3V659h-3Z M1717 659h3V679h-3Z M1725 658h3V698h-3Z M1730 697h3V738h-3Z M1734 737h3V756h-3Z M1751 656h3V660h-3Z" fill="#DE3E4C"/>
<path d="M317.5 1093.3 C323.7 1087.4 343.9 1068.4 354.8 1057.8 C365.7 1047.2 373.7 1039.2 383.1 1029.4 C392.6 1019.7 403.8 1009.3 411.5 999.3 C419.2 989.2 422.1 980.0 429.2 969.1 C436.3 958.2 444.5 946.7 454.0 933.7 C463.5 920.7 477.7 900.9 486.0 891.1 C494.3 881.4 498.0 879.6 503.7 875.2 C509.4 870.8 514.6 868.2 520.0 864.5 C525.4 860.8 529.9 857.9 536.2 853.0 C542.5 848.1 550.1 840.9 558.0 834.9 C565.9 828.9 574.8 821.3 583.3 816.8 C591.8 812.3 599.6 811.9 608.7 807.7 C617.8 803.5 627.4 795.9 637.7 791.4 C648.0 786.9 660.6 784.2 670.3 780.6 C680.0 777.0 687.9 773.0 695.7 769.7 C703.6 766.4 709.0 763.0 717.4 760.6 C725.8 758.2 736.7 756.1 746.4 755.2 C756.1 754.3 766.5 755.8 775.4 755.2 C784.3 754.6 791.3 752.5 800.0 751.6 C808.7 750.8 816.8 751.8 827.8 750.1 C838.8 748.4 854.4 743.8 865.7 741.6 C877.1 739.4 885.8 739.3 895.9 736.8 C906.0 734.3 916.1 729.7 926.2 726.4 C936.3 723.1 946.3 719.7 956.4 717.0 C966.5 714.3 976.6 712.0 986.7 710.4 C996.8 708.8 1006.9 708.6 1017.0 707.5 C1027.1 706.4 1035.0 704.6 1047.2 703.7 C1059.4 702.8 1078.4 702.2 1090.0 701.9 C1101.6 701.6 1105.8 703.0 1116.9 702.0 C1128.1 701.0 1148.6 697.4 1156.9 695.8 C1165.2 694.2 1161.6 695.5 1166.8 692.2 C1172.0 688.9 1180.2 683.2 1188.2 676.1 C1196.2 669.0 1208.3 655.3 1215.0 649.3 C1221.7 643.3 1221.3 645.3 1228.5 640.0 C1235.7 634.7 1249.3 623.1 1258.0 617.6 C1266.7 612.1 1271.6 612.4 1280.6 607.2 C1289.6 602.0 1302.6 592.2 1311.8 586.4 C1321.0 580.6 1326.2 577.2 1336.0 572.6 C1345.8 568.0 1360.0 562.6 1370.7 558.7 C1381.4 554.8 1390.8 552.0 1400.0 549.2 C1409.2 546.4 1412.7 546.5 1425.6 541.9 C1438.5 537.3 1462.0 526.5 1477.4 521.5 C1492.8 516.5 1506.0 515.0 1518.1 512.2 C1530.2 509.4 1541.0 505.7 1550.0 504.8 C1559.0 503.9 1564.7 505.7 1572.0 507.0 C1579.3 508.3 1586.7 511.2 1594.1 512.5 C1601.5 513.8 1608.8 514.2 1616.2 514.7 C1623.6 515.2 1630.9 515.1 1638.2 515.8 C1645.5 516.5 1652.9 517.6 1660.3 519.1 C1667.7 520.6 1675.1 523.1 1682.4 524.6 C1689.8 526.1 1697.1 526.1 1704.4 528.0 C1711.8 529.9 1720.6 533.3 1726.5 535.7 C1732.4 538.1 1735.5 540.6 1739.7 542.3 C1743.9 543.9 1749.9 545.0 1751.9 545.6" fill="none" stroke="#000" stroke-width="3.5" stroke-linejoin="round" stroke-linecap="round"/>
<path d="M253.7 1093.3 C257.5 1084.4 269.6 1055.7 276.7 1040.0 C283.8 1024.3 290.3 1010.2 296.2 999.3 C302.1 988.4 306.6 983.1 312.2 974.5 C317.8 965.9 322.8 956.8 329.9 947.9 C337.0 939.0 347.7 929.6 354.8 921.3 C361.9 913.0 366.0 906.8 372.5 898.2 C379.0 889.6 387.3 879.4 393.8 869.9 C400.3 860.4 406.2 851.5 411.5 841.5 C416.8 831.5 421.6 819.1 425.7 809.6 C429.8 800.1 432.2 794.3 436.3 784.8 C440.4 775.3 445.2 763.4 450.5 752.8 C455.8 742.1 462.3 731.5 468.2 720.9 C474.1 710.3 480.7 696.1 486.0 689.0 C491.3 681.9 494.4 681.4 500.1 678.4 C505.8 675.4 513.4 674.2 520.0 671.3 C526.6 668.4 533.0 665.4 539.9 661.0 C546.8 656.6 554.4 649.2 561.6 644.7 C568.8 640.2 575.4 635.3 583.3 633.8 C591.1 632.3 600.9 636.8 608.7 635.6 C616.6 634.4 624.4 628.1 630.4 626.6 C636.4 625.1 640.2 626.3 645.0 626.6 C649.8 626.9 652.2 628.7 659.4 628.4 C666.6 628.1 678.7 626.0 688.4 624.8 C698.1 623.6 707.7 620.0 717.4 621.2 C727.1 622.4 736.7 628.1 746.4 632.0 C756.1 635.9 768.1 642.0 775.4 644.7 C782.7 647.4 781.9 646.0 790.0 648.0 C798.1 650.0 814.5 654.9 824.0 656.5 C833.5 658.1 838.5 657.2 846.7 657.4 C854.9 657.5 865.0 657.1 873.2 657.4 C881.4 657.7 889.0 660.2 895.9 659.3 C902.8 658.3 909.1 653.9 914.8 651.7 C920.5 649.5 923.1 647.9 930.0 646.0 C936.9 644.1 948.2 641.5 956.4 640.4 C964.6 639.3 972.2 639.4 979.1 639.4 C986.0 639.4 990.4 639.3 998.0 640.4 C1005.6 641.5 1016.3 645.4 1024.5 646.0 C1032.7 646.6 1039.6 644.0 1047.2 644.2 C1054.8 644.4 1062.8 645.6 1069.9 647.0 C1077.0 648.4 1081.7 651.5 1090.0 652.7 C1098.3 653.9 1108.3 654.3 1120.0 654.3 C1131.7 654.3 1150.8 654.5 1159.9 652.8 C1169.0 651.1 1169.7 649.0 1174.8 644.0 C1179.9 639.0 1185.8 629.8 1190.4 622.8 C1195.0 615.8 1198.5 609.5 1202.5 602.0 C1206.5 594.5 1210.4 584.7 1214.7 577.8 C1219.0 570.9 1222.7 566.8 1228.5 560.4 C1234.3 554.0 1244.1 544.2 1249.3 539.6 C1254.5 535.0 1254.9 536.2 1259.8 532.7 C1264.7 529.2 1273.3 523.4 1278.8 518.8 C1284.3 514.2 1287.5 509.9 1292.7 505.0 C1297.9 500.1 1303.7 494.2 1310.0 489.3 C1316.3 484.4 1325.0 478.5 1330.8 475.5 C1336.6 472.5 1339.5 473.1 1344.7 471.1 C1349.9 469.1 1356.8 465.5 1362.0 463.3 C1367.2 461.1 1369.6 459.1 1375.9 458.1 C1382.2 457.1 1393.6 457.9 1400.0 457.3 C1406.4 456.8 1404.0 458.3 1414.4 454.8 C1424.8 451.3 1445.3 440.3 1462.6 436.3 C1479.9 432.3 1503.5 432.1 1518.1 430.7 C1532.7 429.2 1541.0 425.9 1550.0 427.6 C1559.0 429.3 1564.7 436.0 1572.0 440.8 C1579.3 445.6 1586.7 451.7 1594.1 456.3 C1601.5 460.9 1609.6 465.6 1616.2 468.4 C1622.8 471.1 1627.5 471.0 1633.8 472.8 C1640.0 474.6 1647.5 476.5 1653.7 479.4 C1660.0 482.3 1665.0 486.9 1671.3 490.4 C1677.5 493.9 1685.0 497.1 1691.2 500.4 C1697.5 503.7 1702.9 506.1 1708.8 510.3 C1714.7 514.5 1721.3 520.9 1726.5 525.7 C1731.7 530.5 1735.5 535.7 1739.7 539.0 C1743.9 542.3 1749.9 544.5 1751.9 545.6" fill="none" stroke="#F7931A" stroke-width="4.4" stroke-linejoin="round" stroke-linecap="round"/>
<path d="M244.8 1093.3 C249.5 1078.5 264.6 1031.2 273.2 1004.6 C281.8 978.0 288.5 957.3 296.2 933.7 C303.9 910.1 311.9 884.7 319.3 862.8 C326.7 840.9 334.7 819.0 340.6 802.5 C346.5 786.0 350.7 775.3 354.8 763.5 C358.9 751.7 361.6 742.2 365.4 731.6 C369.2 721.0 372.3 711.9 377.7 700.0 C383.1 688.1 391.9 672.1 397.8 660.0 C403.7 647.9 407.1 641.1 413.0 627.2 C418.9 613.3 428.1 586.6 433.1 576.7 C438.1 566.8 438.6 573.1 443.2 567.9 C447.8 562.6 456.3 550.5 460.9 545.2 C465.5 540.0 466.8 541.5 471.0 536.4 C475.2 531.3 481.9 519.1 486.1 514.9 C490.3 510.7 492.4 511.5 496.2 511.1 C500.0 510.7 504.2 512.8 508.8 512.4 C513.4 512.0 519.0 510.0 524.0 508.6 C529.0 507.2 533.6 507.5 539.1 504.1 C544.6 500.7 551.1 493.3 556.7 488.4 C562.3 483.4 568.1 477.0 572.5 474.4 C576.9 471.8 577.3 472.1 583.3 472.6 C589.3 473.1 601.8 476.5 608.7 477.3 C615.7 478.1 620.2 475.1 625.0 477.3 C629.8 479.5 632.6 483.6 637.7 490.7 C642.8 497.8 649.2 509.4 655.8 519.7 C662.4 530.0 670.9 543.5 677.5 552.3 C684.1 561.0 689.1 567.1 695.7 572.2 C702.4 577.3 710.8 580.4 717.4 583.1 C724.0 585.8 729.5 585.6 735.5 588.6 C741.5 591.6 747.0 595.2 753.6 601.2 C760.2 607.2 769.3 617.9 775.4 624.8 C781.5 631.6 782.5 637.6 790.0 642.3 C797.5 646.9 813.4 649.4 820.3 652.7 C827.2 656.0 827.2 659.3 831.6 662.1 C836.0 664.9 841.7 668.9 846.7 669.7 C851.8 670.5 856.9 666.9 861.9 666.9 C866.9 666.9 870.7 668.1 877.0 669.7 C883.3 671.3 890.9 675.7 899.7 676.3 C908.5 676.9 920.5 675.9 930.0 673.5 C939.5 671.1 948.2 665.9 956.4 662.1 C964.6 658.3 973.4 653.9 979.1 650.8 C984.8 647.6 985.5 644.8 990.5 643.2 C995.5 641.6 1003.1 642.1 1009.4 641.3 C1015.7 640.5 1022.6 639.6 1028.3 638.5 C1034.0 637.4 1037.1 635.0 1043.4 634.7 C1049.7 634.4 1058.4 635.7 1066.2 636.6 C1074.0 637.5 1083.6 640.0 1090.0 640.4 C1096.4 640.8 1097.0 636.8 1104.6 638.9 C1112.1 641.0 1125.6 650.0 1135.3 652.8 C1145.0 655.6 1156.9 656.5 1163.0 655.9 C1169.1 655.3 1168.6 651.9 1172.0 649.3 C1175.4 646.6 1179.8 643.8 1183.5 640.0 C1187.2 636.2 1189.9 633.8 1193.9 626.3 C1197.9 618.8 1202.5 605.8 1207.7 595.1 C1212.9 584.4 1218.7 573.2 1225.1 562.2 C1231.5 551.2 1239.6 538.5 1245.9 529.2 C1252.2 520.0 1258.0 513.6 1263.2 506.7 C1268.4 499.8 1272.5 494.8 1277.1 487.6 C1281.7 480.4 1287.0 470.5 1291.0 463.3 C1295.0 456.1 1297.4 451.5 1301.4 444.3 C1305.4 437.1 1310.5 428.0 1315.2 420.0 C1319.9 412.0 1324.2 403.6 1329.4 396.4 C1334.6 389.1 1341.2 382.6 1346.4 376.5 C1351.6 370.4 1356.6 364.4 1360.6 359.5 C1364.6 354.6 1367.7 349.9 1370.5 346.8 C1373.3 343.7 1375.0 342.3 1377.6 341.1 C1380.2 339.9 1382.4 339.6 1386.1 339.7 C1389.8 339.8 1393.4 337.1 1400.0 341.8 C1406.6 346.5 1417.0 362.6 1425.6 367.8 C1434.2 373.1 1441.0 371.8 1451.5 373.3 C1462.0 374.8 1477.4 373.6 1488.5 377.0 C1499.6 380.4 1507.8 389.9 1518.1 393.7 C1528.3 397.5 1541.0 396.0 1550.0 400.0 C1559.0 404.0 1564.7 411.4 1572.0 417.6 C1579.3 423.9 1586.7 432.2 1594.1 437.5 C1601.5 442.8 1609.6 445.9 1616.2 449.6 C1622.8 453.3 1628.3 455.7 1633.8 459.6 C1639.3 463.5 1644.1 467.3 1649.3 472.8 C1654.5 478.3 1659.2 486.1 1664.7 492.7 C1670.2 499.3 1676.5 506.2 1682.4 512.5 C1688.3 518.8 1694.1 524.7 1700.0 530.2 C1705.9 535.7 1712.5 539.7 1717.7 545.6 C1722.9 551.5 1726.9 559.2 1730.9 565.5 C1734.9 571.8 1738.4 577.8 1741.9 583.1 C1745.4 588.4 1750.2 595.0 1751.9 597.4" fill="none" stroke="#5B9CF6" stroke-width="3.4" stroke-linejoin="round" stroke-linecap="round"/>
<path d="M207.0 1093.0 C209.2 1080.2 215.5 1042.5 220.0 1016.0 C224.5 989.5 228.3 966.9 234.2 933.7 C240.1 900.5 249.0 844.5 255.5 816.7 C262.0 788.9 266.7 786.5 273.2 767.0 C279.7 747.5 288.0 713.5 294.5 699.6 C301.0 685.7 306.3 688.1 312.2 683.7 C318.1 679.3 323.5 673.6 330.0 673.0 C336.5 672.4 346.2 680.2 351.2 680.1 C356.2 680.0 356.9 676.4 360.0 672.6 C363.1 668.8 366.7 661.8 370.1 657.4 C373.5 653.0 376.0 648.9 380.2 646.0 C384.4 643.1 390.5 644.2 395.3 639.8 C400.1 635.4 405.0 631.8 409.2 619.6 C413.4 607.4 416.9 582.6 420.5 566.6 C424.1 550.6 426.4 538.9 430.6 523.8 C434.8 508.7 440.8 489.7 445.8 475.8 C450.9 461.9 455.9 449.7 460.9 440.5 C465.9 431.3 472.0 425.3 476.0 420.4 C480.0 415.4 482.7 412.3 484.8 410.8 C486.9 409.3 486.5 409.7 488.6 411.5 C490.7 413.3 494.1 414.7 497.5 421.6 C500.9 428.5 504.8 443.2 508.8 453.1 C512.8 463.0 516.8 472.3 521.4 480.9 C526.0 489.5 533.1 500.6 536.5 504.8 C539.9 509.0 539.1 506.9 541.6 506.1 C544.1 505.3 548.6 501.1 551.7 499.8 C554.8 498.5 556.5 498.5 560.0 498.5 C563.5 498.5 568.0 496.6 572.5 499.8 C577.0 503.0 581.0 507.9 587.0 517.9 C593.0 527.9 603.3 554.5 608.7 559.6 C614.1 564.7 615.4 549.3 619.6 548.7 C623.8 548.1 628.6 549.9 634.0 555.9 C639.4 561.9 646.2 577.9 652.2 584.9 C658.2 591.9 664.9 595.8 670.3 597.6 C675.7 599.4 679.4 596.4 684.8 595.8 C690.2 595.2 696.3 592.2 702.9 594.0 C709.5 595.8 717.4 599.5 724.6 606.7 C731.9 614.0 739.1 627.5 746.4 637.5 C753.6 647.5 761.5 658.2 768.1 666.4 C774.7 674.5 779.4 682.4 786.2 686.4 C793.0 690.4 802.6 689.0 808.9 690.5 C815.2 692.0 819.6 695.5 824.0 695.2 C828.4 694.9 830.4 691.0 835.4 688.6 C840.4 686.2 848.0 683.5 854.3 681.0 C860.6 678.5 867.5 674.9 873.2 673.5 C878.9 672.1 883.4 674.4 888.4 672.5 C893.4 670.6 898.5 667.3 903.5 662.1 C908.5 656.9 914.8 647.0 918.6 641.3 C922.4 635.6 922.4 631.4 926.2 628.1 C930.0 624.8 936.3 623.5 941.3 621.5 C946.3 619.5 950.1 616.6 956.4 615.8 C962.7 615.0 973.4 615.0 979.1 616.7 C984.8 618.4 985.5 622.4 990.5 626.2 C995.5 630.0 1003.1 636.1 1009.4 639.4 C1015.7 642.7 1020.1 644.1 1028.3 646.0 C1036.5 647.9 1049.8 647.5 1058.6 650.8 C1067.4 654.1 1072.6 662.5 1081.3 665.9 C1090.0 669.3 1100.7 671.3 1110.7 671.2 C1120.7 671.1 1134.8 667.4 1141.5 665.1 C1148.2 662.8 1146.5 661.7 1150.7 657.3 C1154.9 652.9 1162.3 647.1 1166.8 638.6 C1171.3 630.1 1173.9 618.5 1177.5 606.5 C1181.1 594.5 1185.1 579.7 1188.2 566.3 C1191.3 552.9 1193.6 540.8 1196.3 526.1 C1199.0 511.4 1201.0 494.6 1204.3 477.9 C1207.6 461.1 1212.3 438.1 1216.3 425.6 C1220.3 413.1 1224.2 409.8 1228.4 402.9 C1232.7 396.0 1238.2 388.5 1241.8 384.1 C1245.4 379.7 1247.1 377.9 1249.8 376.6 C1252.5 375.4 1255.3 375.4 1257.9 376.6 C1260.5 377.8 1261.0 384.8 1265.6 383.6 C1270.2 382.4 1279.7 374.5 1285.4 369.5 C1291.1 364.5 1295.3 358.3 1299.6 353.8 C1303.8 349.3 1307.4 344.4 1310.9 342.5 C1314.5 340.6 1316.9 341.6 1320.9 342.5 C1324.9 343.4 1331.0 345.7 1335.0 348.2 C1339.0 350.7 1341.2 355.5 1345.0 357.4 C1348.8 359.3 1353.3 358.2 1357.8 359.5 C1362.3 360.8 1368.7 363.3 1372.0 365.2 C1375.3 367.1 1374.6 367.1 1377.6 370.9 C1380.6 374.7 1385.8 383.7 1390.0 387.8 C1394.2 391.9 1398.4 392.8 1402.6 395.7 C1406.8 398.6 1411.5 403.9 1415.2 405.1 C1418.9 406.3 1421.0 404.9 1424.7 402.8 C1428.4 400.7 1433.1 395.3 1437.3 392.5 C1441.5 389.7 1445.4 388.4 1449.9 386.2 C1454.4 384.0 1460.4 380.2 1464.1 379.1 C1467.8 378.1 1469.1 379.0 1472.0 379.9 C1474.9 380.8 1478.0 382.2 1481.4 384.6 C1484.8 387.0 1488.8 391.2 1492.5 394.1 C1496.2 397.0 1499.8 400.0 1503.5 402.0 C1507.2 404.0 1511.1 406.2 1514.5 405.9 C1517.9 405.6 1521.1 401.8 1524.0 400.4 C1526.9 398.9 1529.3 397.7 1531.9 397.2 C1534.5 396.7 1536.7 396.0 1539.7 397.2 C1542.7 398.4 1546.1 398.8 1550.0 404.4 C1553.9 410.0 1558.8 422.1 1563.2 430.9 C1567.6 439.7 1572.1 447.5 1576.5 457.4 C1580.9 467.3 1585.3 481.2 1589.7 490.4 C1594.1 499.6 1598.6 506.6 1603.0 512.5 C1607.4 518.4 1611.8 523.9 1616.2 525.7 C1620.6 527.5 1625.0 523.1 1629.4 523.5 C1633.8 523.9 1638.7 526.5 1642.7 528.0 C1646.8 529.5 1650.0 528.7 1653.7 532.4 C1657.4 536.1 1660.3 544.1 1664.7 550.0 C1669.1 555.9 1675.4 563.8 1680.2 567.7 C1685.0 571.6 1689.4 570.3 1693.4 573.2 C1697.4 576.1 1700.4 580.3 1704.4 585.3 C1708.5 590.3 1713.3 597.9 1717.7 603.0 C1722.1 608.1 1726.9 609.0 1730.9 616.0 C1734.9 623.0 1738.4 639.7 1741.9 644.9 C1745.4 650.1 1750.2 646.7 1751.9 647.1" fill="none" stroke="#5E9E63" stroke-width="1" stroke-linejoin="round"/>
<path d="M1441.5 305.6L1603.3 371.5" stroke="#3D5FD6" stroke-width="2" stroke-linecap="round"/>
<path d="M1470.7 493.7L1603.3 430.0" stroke="#3D5FD6" stroke-width="2" stroke-linecap="round"/>
<path d="M1555.2 441.1L1820.0 612.2" stroke="#3D5FD6" stroke-width="2" stroke-linecap="round"/>
<path d="M1543.3 616.7L1823.7 745.6" stroke="#3D5FD6" stroke-width="2" stroke-linecap="round"/>
<path d="M1084.6 668.1L1183.0 585.1" stroke="#3D5FD6" stroke-width="2" stroke-linecap="round"/>
<path d="M1090.0 730.0L1192.0 613.0" stroke="#3D5FD6" stroke-width="2" stroke-linecap="round"/>
<path d="M11 660.5H1938" stroke="#F23645" stroke-width="1" stroke-dasharray="1 2"/>
</g>
<text x="17.9" y="45.9" font-size="12.2" fill="#131722" textLength="160.8" lengthAdjust="spacingAndGlyphs">XRP / TetherUS · 1D · Binance</text>
<text x="186.2" y="45.9" font-size="12.2" fill="#131722" textLength="7.8" lengthAdjust="spacingAndGlyphs">O</text>
<text x="194.2" y="45.9" font-size="12.2" fill="#DE3E4C" textLength="35.8" lengthAdjust="spacingAndGlyphs">2.2276</text>
<text x="237.4" y="45.9" font-size="12.2" fill="#131722" textLength="7.6" lengthAdjust="spacingAndGlyphs">H</text>
<text x="245.2" y="45.9" font-size="12.2" fill="#DE3E4C" textLength="35.4" lengthAdjust="spacingAndGlyphs">2.2652</text>
<text x="288.4" y="45.9" font-size="12.2" fill="#131722" textLength="5.6" lengthAdjust="spacingAndGlyphs">L</text>
<text x="294.3" y="45.9" font-size="12.2" fill="#DE3E4C" textLength="35.7" lengthAdjust="spacingAndGlyphs">2.1855</text>
<text x="337.5" y="45.9" font-size="12.2" fill="#131722" textLength="7.3" lengthAdjust="spacingAndGlyphs">C</text>
<text x="345.0" y="45.9" font-size="12.2" fill="#DE3E4C" textLength="35.7" lengthAdjust="spacingAndGlyphs">2.2140</text>
<text x="388.1" y="45.9" font-size="12.2" fill="#DE3E4C" textLength="90.0" lengthAdjust="spacingAndGlyphs">−0.0136 (−0.61%)</text>
<text x="17.9" y="62.7" font-size="12.2" fill="#131722" textLength="48.2" lengthAdjust="spacingAndGlyphs">Vol · XRP</text>
<text x="73.0" y="62.7" font-size="12.2" fill="#F7525F" textLength="40.2" lengthAdjust="spacingAndGlyphs">85.13 M</text>
<text x="17.9" y="79.4" font-size="12.2" fill="#131722" textLength="65.5" lengthAdjust="spacingAndGlyphs">EMAs_Editor</text>
<text x="90.9" y="79.4" font-size="12.2" fill="#2E8B3A" textLength="35.7" lengthAdjust="spacingAndGlyphs">2.2480</text>
<text x="134.0" y="79.4" font-size="12.2" fill="#131722" textLength="35.8" lengthAdjust="spacingAndGlyphs">2.5270</text>
<text x="177.2" y="79.4" font-size="12.2" fill="#5B9CF6" textLength="35.2" lengthAdjust="spacingAndGlyphs">2.3830</text>
<text x="219.8" y="79.4" font-size="12.2" fill="#F5A623" textLength="35.8" lengthAdjust="spacingAndGlyphs">2.5286</text>
<text x="1947" y="53.0" font-size="12.2" fill="#131722">3.9000</text><text x="1947" y="89.2" font-size="12.2" fill="#131722">3.8000</text><text x="1947" y="125.5" font-size="12.2" fill="#131722">3.7000</text><text x="1947" y="161.7" font-size="12.2" fill="#131722">3.6000</text><text x="1947" y="198.0" font-size="12.2" fill="#131722">3.5000</text><text x="1947" y="234.2" font-size="12.2" fill="#131722">3.4000</text><text x="1947" y="270.4" font-size="12.2" fill="#131722">3.3000</text><text x="1947" y="306.7" font-size="12.2" fill="#131722">3.2000</text><text x="1947" y="342.9" font-size="12.2" fill="#131722">3.1000</text><text x="1947" y="379.2" font-size="12.2" fill="#131722">3.0000</text><text x="1947" y="415.4" font-size="12.2" fill="#131722">2.9000</text><text x="1947" y="451.6" font-size="12.2" fill="#131722">2.8000</text><text x="1947" y="487.9" font-size="12.2" fill="#131722">2.7000</text><text x="1947" y="524.1" font-size="12.2" fill="#131722">2.6000</text><text x="1947" y="560.4" font-size="12.2" fill="#131722">2.5000</text><text x="1947" y="596.6" font-size="12.2" fill="#131722">2.4000</text><text x="1947" y="632.8" font-size="12.2" fill="#131722">2.3000</text><text x="1947" y="669.1" font-size="12.2" fill="#131722">2.2000</text><text x="1947" y="705.3" font-size="12.2" fill="#131722">2.1000</text><text x="1947" y="741.6" font-size="12.2" fill="#131722">2.0000</text><text x="1947" y="777.8" font-size="12.2" fill="#131722">1.9000</text><text x="1947" y="814.0" font-size="12.2" fill="#131722">1.8000</text><text x="1947" y="850.3" font-size="12.2" fill="#131722">1.7000</text><text x="1947" y="886.5" font-size="12.2" fill="#131722">1.6000</text><text x="1947" y="922.8" font-size="12.2" fill="#131722">1.5000</text><text x="1947" y="959.0" font-size="12.2" fill="#131722">1.4000</text><text x="1947" y="995.2" font-size="12.2" fill="#131722">1.3000</text><text x="1947" y="1031.5" font-size="12.2" fill="#131722">1.2000</text><text x="1947" y="1067.7" font-size="12.2" fill="#131722">1.1000</text>
<rect x="1939.2" y="521.0" width="48.5" height="17.0" rx="2" fill="#F7931A"/>
<text x="1947.7" y="534.0" font-size="12.2" fill="#131722" textLength="35.1" lengthAdjust="spacingAndGlyphs" font-weight="bold">2.5286</text>
<rect x="1939.2" y="538.0" width="48.5" height="16.7" rx="2" fill="#000000"/>
<text x="1947.7" y="550.8" font-size="12.2" fill="#fff" textLength="35.1" lengthAdjust="spacingAndGlyphs" font-weight="bold">2.5270</text>
<rect x="1939.2" y="590.1" width="48.5" height="16.6" rx="2" fill="#5B9CF6"/>
<text x="1947.7" y="603.0" font-size="12.2" fill="#131722" textLength="35.1" lengthAdjust="spacingAndGlyphs" font-weight="bold">2.3830</text>
<rect x="1939.2" y="635.2" width="48.5" height="16.2" rx="2" fill="#0B7A1A"/>
<text x="1947.7" y="647.6" font-size="12.2" fill="#fff" textLength="35.1" lengthAdjust="spacingAndGlyphs" font-weight="bold">2.2480</text>
<rect x="1939.2" y="651.8" width="59.6" height="30.5" rx="2" fill="#F23645"/>
<text x="1947.7" y="664.3" font-size="12.2" fill="#fff" textLength="35.1" lengthAdjust="spacingAndGlyphs" font-weight="bold">2.2140</text>
<text x="1947.7" y="679.3" font-size="12.2" fill="#fff" textLength="45.7" lengthAdjust="spacingAndGlyphs" font-weight="bold">09:54:16</text>
<rect x="1881.0" y="652.3" width="56.8" height="16.3" rx="2" fill="#F23645"/>
<text x="1885.3" y="664.6" font-size="12.2" fill="#fff" textLength="47.8" lengthAdjust="spacingAndGlyphs" font-weight="bold">XRPUSDT</text>
<rect x="1939.0" y="1075.0" width="53.0" height="17.0" rx="2" fill="#F23645"/>
<text x="1947.5" y="1088.0" font-size="12.2" fill="#fff" textLength="38.5" lengthAdjust="spacingAndGlyphs" font-weight="bold">85.13 M</text>
<rect x="11" y="1128" width="1927" height="41.5" fill="#7E57C2" fill-opacity="0.1"/>
<path d="M11 1128.5H1938 M11 1169.5H1938" stroke="#787B86" stroke-width="1" stroke-dasharray="5 6" stroke-dashoffset="1"/>
<path d="M11 1149.5H1938" stroke="#787B86" stroke-opacity="0.6" stroke-width="1" stroke-dasharray="5 6" stroke-dashoffset="1"/>
<g clip-path="url(#rp)">
<clipPath id="ob70"><rect x="11" y="1094" width="1927" height="34.4"/></clipPath>
<path d="M10.6 1155.0 L17.6 1156.7 L21.9 1151.0 L26.2 1152.4 L33.2 1149.7 L39.3 1151.0 L47.1 1149.7 L52.3 1151.5 L59.3 1158.4 L64.5 1155.8 L69.2 1165.4 L73.2 1160.2 L81.0 1156.7 L86.2 1153.2 L93.2 1159.3 L98.4 1157.9 L107.1 1161.0 L112.3 1160.2 L121.0 1139.3 L126.2 1137.6 L132.3 1137.1 L138.3 1126.3 L145.3 1114.1 L149.6 1119.0 L157.5 1111.5 L160.9 1107.2 L167.0 1113.2 L170.5 1112.4 L177.4 1115.5 L183.5 1110.6 L189.6 1107.2 L194.8 1111.5 L205.3 1116.7 L212.2 1114.1 L220.0 1108.0 L229.6 1102.3 L233.9 1111.5 L242.6 1127.2 L253.0 1121.1 L255.7 1121.9 L260.0 1136.7 L264.3 1134.1 L273.0 1135.8 L279.1 1133.6 L286.1 1133.6 L293.0 1130.6 L298.2 1142.3 L305.2 1143.3 L315.6 1145.4 L324.3 1141.6 L329.5 1148.9 L338.2 1148.5 L348.6 1153.2 L353.8 1151.5 L357.0 1141.9 L365.6 1136.7 L374.3 1139.3 L379.5 1139.3 L383.0 1147.1 L387.4 1142.8 L391.7 1147.1 L396.1 1144.5 L400.4 1136.4 L404.7 1139.3 L409.1 1139.3 L413.4 1133.2 L416.9 1123.7 L424.7 1121.1 L429.1 1121.4 L430.8 1123.7 L433.4 1136.4 L438.6 1134.1 L443.8 1131.5 L447.3 1131.8 L450.8 1134.6 L459.5 1135.3 L463.8 1139.3 L469.9 1138.1 L475.1 1138.1 L480.3 1135.8 L485.6 1142.8 L489.0 1148.0 L494.2 1160.2 L497.7 1155.0 L502.9 1160.2 L509.9 1165.4 L516.8 1161.0 L523.8 1160.7 L529.0 1159.3 L532.5 1160.2 L541.2 1152.4 L545.5 1144.5 L549.9 1143.3 L556.8 1147.1 L562.0 1152.4 L565.5 1145.4 L570.7 1148.0 L575.9 1152.4 L582.9 1152.4 L587.2 1163.6 L591.6 1161.0 L595.9 1164.5 L600.3 1164.9 L604.6 1166.3 L609.8 1162.8 L612.8 1135.8 L616.8 1151.5 L622.9 1149.7 L629.8 1146.3 L634.2 1151.5 L639.4 1155.0 L646.3 1160.2 L650.7 1155.0 L655.9 1153.2 L662.8 1149.7 L668.0 1148.9 L671.5 1150.6 L676.7 1150.6 L681.1 1151.5 L685.4 1143.7 L690.6 1148.0 L695.8 1149.2 L702.0 1146.8 L710.6 1146.8 L715.0 1150.6 L718.5 1150.6 L722.8 1155.0 L728.0 1158.4 L732.4 1159.0 L736.7 1160.7 L740.2 1157.6 L745.4 1161.9 L750.6 1157.9 L756.7 1155.0 L761.0 1162.8 L766.3 1164.9 L769.7 1167.6 L774.1 1154.1 L779.3 1156.2 L786.2 1148.5 L792.3 1149.7 L797.5 1150.6 L802.8 1151.5 L809.7 1152.4 L816.7 1151.0 L824.5 1151.0 L830.6 1142.8 L835.8 1143.3 L841.9 1145.4 L846.2 1145.4 L854.9 1138.1 L860.1 1143.7 L864.4 1147.1 L868.8 1145.4 L877.5 1149.7 L884.4 1152.7 L888.8 1150.3 L893.1 1152.7 L898.3 1136.7 L901.8 1136.4 L906.2 1129.8 L910.5 1138.4 L915.7 1130.6 L919.2 1129.4 L922.7 1131.8 L927.0 1142.8 L932.2 1143.3 L935.7 1145.4 L940.0 1141.6 L945.3 1145.4 L950.5 1146.8 L956.6 1141.9 L960.9 1151.0 L967.9 1148.5 L974.8 1150.6 L979.2 1150.3 L987.0 1155.0 L991.3 1161.0 L995.7 1158.4 L1002.6 1156.7 L1007.8 1152.4 L1013.0 1155.8 L1017.4 1161.4 L1020.9 1155.5 L1024.3 1154.4 L1028.7 1147.5 L1033.9 1143.3 L1040.0 1146.3 L1043.5 1150.6 L1047.0 1154.1 L1053.9 1156.7 L1058.2 1155.0 L1062.6 1148.9 L1067.8 1154.1 L1074.8 1153.7 L1081.7 1158.4 L1088.7 1163.6 L1093.0 1150.6 L1098.2 1148.5 L1101.7 1149.2 L1106.0 1154.1 L1114.7 1147.5 L1122.6 1144.5 L1126.9 1149.2 L1132.1 1144.5 L1136.5 1143.3 L1141.7 1146.8 L1144.3 1146.3 L1148.6 1142.3 L1153.8 1141.9 L1158.2 1138.4 L1165.1 1126.3 L1170.3 1119.3 L1173.8 1119.0 L1181.6 1114.1 L1187.7 1117.6 L1194.7 1109.8 L1199.0 1114.1 L1206.8 1113.8 L1213.8 1112.0 L1216.4 1112.4 L1219.9 1135.3 L1224.2 1137.1 L1232.9 1136.4 L1238.1 1134.6 L1242.5 1140.5 L1246.8 1141.1 L1252.0 1144.0 L1258.1 1148.0 L1263.3 1157.9 L1267.7 1150.3 L1272.0 1144.5 L1276.4 1149.2 L1279.8 1148.9 L1284.2 1136.7 L1290.3 1139.3 L1300.7 1145.1 L1306.8 1140.5 L1310.2 1140.5 L1314.6 1148.5 L1321.5 1148.0 L1325.0 1147.5 L1330.2 1149.2 L1335.4 1157.9 L1339.8 1154.1 L1344.1 1156.7 L1349.4 1147.1 L1354.6 1148.9 L1361.5 1155.8 L1365.9 1149.2 L1370.2 1150.6 L1375.4 1152.0 L1378.9 1156.7 L1384.1 1157.9 L1390.6 1159.2 L1394.3 1154.2 L1399.0 1154.6 L1403.6 1156.4 L1407.3 1155.0 L1412.9 1155.0 L1420.4 1145.6 L1426.0 1147.1 L1431.5 1143.0 L1437.1 1138.2 L1441.8 1137.5 L1446.4 1144.3 L1450.2 1146.8 L1454.8 1143.8 L1459.5 1141.2 L1463.2 1141.5 L1467.9 1149.0 L1476.2 1149.4 L1480.9 1158.3 L1483.7 1158.7 L1487.4 1151.2 L1493.0 1160.5 L1497.6 1157.4 L1501.4 1156.4 L1506.0 1152.3 L1509.7 1151.8 L1514.4 1153.6 L1521.8 1141.2 L1527.4 1141.2 L1532.1 1146.2 L1537.7 1145.6 L1541.4 1149.9 L1544.2 1154.2 L1547.9 1152.7 L1552.6 1159.2 L1556.3 1172.8 L1560.9 1172.3 L1569.3 1158.3 L1576.8 1163.0 L1585.1 1168.5 L1589.8 1163.9 L1593.5 1163.0 L1599.1 1156.1 L1606.6 1160.5 L1612.1 1159.2 L1617.7 1150.9 L1624.2 1145.6 L1628.9 1146.2 L1636.3 1149.4 L1641.9 1156.4 L1645.7 1152.7 L1653.1 1151.2 L1658.7 1161.1 L1663.3 1165.4 L1667.1 1157.4 L1670.8 1161.1 L1675.4 1156.8 L1680.1 1157.4 L1687.6 1146.2 L1692.2 1151.2 L1697.8 1151.8 L1703.4 1156.1 L1709.0 1157.4 L1716.4 1159.2 L1721.1 1157.4 L1729.4 1164.8 L1735.0 1167.6 L1738.8 1167.2 L1747.1 1149.9 L1751.8 1149.9 L1751.8 1128.4 L10.6 1128.4 Z" fill="url(#ob)" clip-path="url(#ob70)"/>
<path d="M10.6 1155.8 C13.1 1156.1 20.0 1157.9 25.4 1157.6 C30.7 1157.3 37.5 1155.0 42.8 1154.1 C48.0 1153.2 50.9 1152.2 56.7 1152.4 C62.5 1152.5 71.1 1154.2 77.5 1155.0 C83.9 1155.7 89.1 1156.0 94.9 1156.7 C100.7 1157.4 106.5 1160.0 112.3 1159.3 C118.1 1158.6 123.9 1155.2 129.7 1152.4 C135.4 1149.5 141.2 1146.0 147.0 1141.9 C152.8 1137.9 158.6 1132.4 164.4 1128.0 C170.2 1123.7 176.6 1118.8 181.8 1115.9 C187.0 1113.0 191.4 1111.4 195.7 1110.6 C200.0 1109.9 202.9 1111.7 207.9 1111.5 C212.8 1111.4 220.9 1110.1 225.2 1109.8 C229.6 1109.5 229.6 1108.9 233.9 1109.8 C238.3 1110.6 245.5 1113.1 251.3 1115.0 C257.1 1116.9 262.9 1118.9 268.7 1121.1 C274.5 1123.2 280.3 1125.7 286.1 1128.0 C291.9 1130.3 297.7 1133.2 303.4 1135.0 C309.2 1136.7 315.0 1137.3 320.8 1138.4 C326.6 1139.6 333.3 1140.8 338.2 1141.9 C343.1 1143.1 345.1 1144.9 350.0 1145.4 C354.9 1145.9 361.6 1145.3 367.4 1145.1 C373.2 1144.8 379.0 1144.2 384.8 1143.7 C390.6 1143.1 396.3 1143.1 402.1 1141.9 C407.9 1140.8 413.7 1138.2 419.5 1136.7 C425.3 1135.3 431.1 1134.2 436.9 1133.2 C442.7 1132.2 448.5 1130.9 454.3 1130.6 C460.1 1130.3 465.9 1130.5 471.7 1131.5 C477.4 1132.5 483.2 1134.4 489.0 1136.7 C494.8 1139.0 500.6 1142.5 506.4 1145.4 C512.2 1148.3 518.0 1152.1 523.8 1154.1 C529.6 1156.1 535.4 1157.3 541.2 1157.6 C547.0 1157.9 552.8 1156.8 558.6 1155.8 C564.3 1154.8 570.1 1152.2 575.9 1151.5 C581.7 1150.8 587.5 1150.9 593.3 1151.5 C599.1 1152.1 604.9 1154.4 610.7 1155.0 C616.5 1155.5 622.3 1155.0 628.1 1155.0 C633.9 1155.0 639.7 1155.5 645.4 1155.0 C651.2 1154.4 657.0 1152.1 662.8 1151.5 C668.6 1150.9 674.8 1151.4 680.2 1151.5 C685.6 1151.6 689.6 1152.4 695.0 1152.0 C700.4 1151.6 706.6 1149.1 712.4 1148.9 C718.2 1148.6 724.0 1149.7 729.8 1150.6 C735.6 1151.5 741.3 1152.9 747.1 1154.1 C752.9 1155.2 758.7 1156.7 764.5 1157.6 C770.3 1158.4 776.1 1159.4 781.9 1159.3 C787.7 1159.2 793.5 1157.6 799.3 1156.7 C805.1 1155.8 810.9 1155.2 816.7 1154.1 C822.4 1152.9 828.2 1150.9 834.0 1149.7 C839.8 1148.6 845.6 1147.9 851.4 1147.1 C857.2 1146.4 863.0 1145.3 868.8 1145.1 C874.6 1144.8 880.4 1145.5 886.2 1145.4 C892.0 1145.3 897.8 1145.2 903.6 1144.5 C909.3 1143.9 915.1 1142.4 920.9 1141.6 C926.7 1140.8 932.5 1140.2 938.3 1139.8 C944.1 1139.5 949.9 1138.7 955.7 1139.3 C961.5 1140.0 967.3 1142.1 973.1 1143.7 C978.9 1145.3 984.7 1147.6 990.4 1148.9 C996.2 1150.2 1002.0 1150.5 1007.8 1151.5 C1013.6 1152.5 1019.8 1154.8 1025.2 1155.0 C1030.6 1155.1 1034.6 1152.6 1040.0 1152.4 C1045.4 1152.1 1051.6 1153.2 1057.4 1153.2 C1063.2 1153.2 1069.0 1152.2 1074.8 1152.4 C1080.6 1152.5 1086.3 1153.8 1092.1 1154.1 C1097.9 1154.4 1103.7 1154.4 1109.5 1154.1 C1115.3 1153.8 1121.1 1153.2 1126.9 1152.4 C1132.7 1151.5 1138.5 1150.6 1144.3 1148.9 C1150.1 1147.1 1155.9 1144.7 1161.7 1141.9 C1167.4 1139.2 1173.2 1135.4 1179.0 1132.4 C1184.8 1129.3 1190.6 1126.3 1196.4 1123.7 C1202.2 1121.1 1208.0 1117.3 1213.8 1116.7 C1219.6 1116.1 1225.4 1118.6 1231.2 1120.2 C1237.0 1121.8 1242.8 1123.4 1248.6 1126.3 C1254.3 1129.2 1260.1 1134.7 1265.9 1137.6 C1271.7 1140.5 1277.5 1142.4 1283.3 1143.7 C1289.1 1144.9 1294.9 1144.8 1300.7 1145.1 C1306.5 1145.3 1312.3 1145.2 1318.1 1145.4 C1323.9 1145.6 1329.7 1145.7 1335.4 1146.3 C1341.2 1146.8 1347.0 1148.2 1352.8 1148.9 C1358.6 1149.6 1364.8 1149.9 1370.2 1150.6 C1375.6 1151.3 1379.4 1152.4 1385.0 1153.1 C1390.6 1153.8 1397.4 1155.0 1403.6 1155.0 C1409.8 1154.9 1416.0 1153.9 1422.2 1152.7 C1428.4 1151.6 1433.1 1149.5 1440.9 1148.1 C1448.6 1146.7 1461.0 1144.5 1468.8 1144.3 C1476.5 1144.2 1481.2 1146.0 1487.4 1147.1 C1493.6 1148.2 1499.8 1149.9 1506.0 1150.9 C1512.2 1151.8 1518.4 1152.9 1524.6 1152.7 C1530.8 1152.6 1537.1 1150.1 1543.3 1149.9 C1549.5 1149.8 1555.7 1150.7 1561.9 1151.8 C1568.1 1152.9 1574.3 1154.7 1580.5 1156.4 C1586.7 1158.1 1594.5 1160.9 1599.1 1162.0 C1603.8 1163.1 1603.8 1163.6 1608.4 1163.0 C1613.1 1162.3 1620.8 1159.8 1627.0 1158.3 C1633.2 1156.8 1639.5 1155.0 1645.7 1154.2 C1651.9 1153.4 1658.1 1153.6 1664.3 1153.6 C1670.5 1153.6 1676.7 1154.0 1682.9 1154.2 C1689.1 1154.4 1695.3 1154.6 1701.5 1155.0 C1707.7 1155.3 1713.9 1155.9 1720.1 1156.4 C1726.3 1157.0 1733.5 1157.8 1738.8 1158.3 C1744.0 1158.8 1749.6 1159.1 1751.8 1159.2" fill="none" stroke="#EEE08A" stroke-width="1.1"/>
<path d="M10.6 1155.0 L17.6 1156.7 L21.9 1151.0 L26.2 1152.4 L33.2 1149.7 L39.3 1151.0 L47.1 1149.7 L52.3 1151.5 L59.3 1158.4 L64.5 1155.8 L69.2 1165.4 L73.2 1160.2 L81.0 1156.7 L86.2 1153.2 L93.2 1159.3 L98.4 1157.9 L107.1 1161.0 L112.3 1160.2 L121.0 1139.3 L126.2 1137.6 L132.3 1137.1 L138.3 1126.3 L145.3 1114.1 L149.6 1119.0 L157.5 1111.5 L160.9 1107.2 L167.0 1113.2 L170.5 1112.4 L177.4 1115.5 L183.5 1110.6 L189.6 1107.2 L194.8 1111.5 L205.3 1116.7 L212.2 1114.1 L220.0 1108.0 L229.6 1102.3 L233.9 1111.5 L242.6 1127.2 L253.0 1121.1 L255.7 1121.9 L260.0 1136.7 L264.3 1134.1 L273.0 1135.8 L279.1 1133.6 L286.1 1133.6 L293.0 1130.6 L298.2 1142.3 L305.2 1143.3 L315.6 1145.4 L324.3 1141.6 L329.5 1148.9 L338.2 1148.5 L348.6 1153.2 L353.8 1151.5 L357.0 1141.9 L365.6 1136.7 L374.3 1139.3 L379.5 1139.3 L383.0 1147.1 L387.4 1142.8 L391.7 1147.1 L396.1 1144.5 L400.4 1136.4 L404.7 1139.3 L409.1 1139.3 L413.4 1133.2 L416.9 1123.7 L424.7 1121.1 L429.1 1121.4 L430.8 1123.7 L433.4 1136.4 L438.6 1134.1 L443.8 1131.5 L447.3 1131.8 L450.8 1134.6 L459.5 1135.3 L463.8 1139.3 L469.9 1138.1 L475.1 1138.1 L480.3 1135.8 L485.6 1142.8 L489.0 1148.0 L494.2 1160.2 L497.7 1155.0 L502.9 1160.2 L509.9 1165.4 L516.8 1161.0 L523.8 1160.7 L529.0 1159.3 L532.5 1160.2 L541.2 1152.4 L545.5 1144.5 L549.9 1143.3 L556.8 1147.1 L562.0 1152.4 L565.5 1145.4 L570.7 1148.0 L575.9 1152.4 L582.9 1152.4 L587.2 1163.6 L591.6 1161.0 L595.9 1164.5 L600.3 1164.9 L604.6 1166.3 L609.8 1162.8 L612.8 1135.8 L616.8 1151.5 L622.9 1149.7 L629.8 1146.3 L634.2 1151.5 L639.4 1155.0 L646.3 1160.2 L650.7 1155.0 L655.9 1153.2 L662.8 1149.7 L668.0 1148.9 L671.5 1150.6 L676.7 1150.6 L681.1 1151.5 L685.4 1143.7 L690.6 1148.0 L695.8 1149.2 L702.0 1146.8 L710.6 1146.8 L715.0 1150.6 L718.5 1150.6 L722.8 1155.0 L728.0 1158.4 L732.4 1159.0 L736.7 1160.7 L740.2 1157.6 L745.4 1161.9 L750.6 1157.9 L756.7 1155.0 L761.0 1162.8 L766.3 1164.9 L769.7 1167.6 L774.1 1154.1 L779.3 1156.2 L786.2 1148.5 L792.3 1149.7 L797.5 1150.6 L802.8 1151.5 L809.7 1152.4 L816.7 1151.0 L824.5 1151.0 L830.6 1142.8 L835.8 1143.3 L841.9 1145.4 L846.2 1145.4 L854.9 1138.1 L860.1 1143.7 L864.4 1147.1 L868.8 1145.4 L877.5 1149.7 L884.4 1152.7 L888.8 1150.3 L893.1 1152.7 L898.3 1136.7 L901.8 1136.4 L906.2 1129.8 L910.5 1138.4 L915.7 1130.6 L919.2 1129.4 L922.7 1131.8 L927.0 1142.8 L932.2 1143.3 L935.7 1145.4 L940.0 1141.6 L945.3 1145.4 L950.5 1146.8 L956.6 1141.9 L960.9 1151.0 L967.9 1148.5 L974.8 1150.6 L979.2 1150.3 L987.0 1155.0 L991.3 1161.0 L995.7 1158.4 L1002.6 1156.7 L1007.8 1152.4 L1013.0 1155.8 L1017.4 1161.4 L1020.9 1155.5 L1024.3 1154.4 L1028.7 1147.5 L1033.9 1143.3 L1040.0 1146.3 L1043.5 1150.6 L1047.0 1154.1 L1053.9 1156.7 L1058.2 1155.0 L1062.6 1148.9 L1067.8 1154.1 L1074.8 1153.7 L1081.7 1158.4 L1088.7 1163.6 L1093.0 1150.6 L1098.2 1148.5 L1101.7 1149.2 L1106.0 1154.1 L1114.7 1147.5 L1122.6 1144.5 L1126.9 1149.2 L1132.1 1144.5 L1136.5 1143.3 L1141.7 1146.8 L1144.3 1146.3 L1148.6 1142.3 L1153.8 1141.9 L1158.2 1138.4 L1165.1 1126.3 L1170.3 1119.3 L1173.8 1119.0 L1181.6 1114.1 L1187.7 1117.6 L1194.7 1109.8 L1199.0 1114.1 L1206.8 1113.8 L1213.8 1112.0 L1216.4 1112.4 L1219.9 1135.3 L1224.2 1137.1 L1232.9 1136.4 L1238.1 1134.6 L1242.5 1140.5 L1246.8 1141.1 L1252.0 1144.0 L1258.1 1148.0 L1263.3 1157.9 L1267.7 1150.3 L1272.0 1144.5 L1276.4 1149.2 L1279.8 1148.9 L1284.2 1136.7 L1290.3 1139.3 L1300.7 1145.1 L1306.8 1140.5 L1310.2 1140.5 L1314.6 1148.5 L1321.5 1148.0 L1325.0 1147.5 L1330.2 1149.2 L1335.4 1157.9 L1339.8 1154.1 L1344.1 1156.7 L1349.4 1147.1 L1354.6 1148.9 L1361.5 1155.8 L1365.9 1149.2 L1370.2 1150.6 L1375.4 1152.0 L1378.9 1156.7 L1384.1 1157.9 L1390.6 1159.2 L1394.3 1154.2 L1399.0 1154.6 L1403.6 1156.4 L1407.3 1155.0 L1412.9 1155.0 L1420.4 1145.6 L1426.0 1147.1 L1431.5 1143.0 L1437.1 1138.2 L1441.8 1137.5 L1446.4 1144.3 L1450.2 1146.8 L1454.8 1143.8 L1459.5 1141.2 L1463.2 1141.5 L1467.9 1149.0 L1476.2 1149.4 L1480.9 1158.3 L1483.7 1158.7 L1487.4 1151.2 L1493.0 1160.5 L1497.6 1157.4 L1501.4 1156.4 L1506.0 1152.3 L1509.7 1151.8 L1514.4 1153.6 L1521.8 1141.2 L1527.4 1141.2 L1532.1 1146.2 L1537.7 1145.6 L1541.4 1149.9 L1544.2 1154.2 L1547.9 1152.7 L1552.6 1159.2 L1556.3 1172.8 L1560.9 1172.3 L1569.3 1158.3 L1576.8 1163.0 L1585.1 1168.5 L1589.8 1163.9 L1593.5 1163.0 L1599.1 1156.1 L1606.6 1160.5 L1612.1 1159.2 L1617.7 1150.9 L1624.2 1145.6 L1628.9 1146.2 L1636.3 1149.4 L1641.9 1156.4 L1645.7 1152.7 L1653.1 1151.2 L1658.7 1161.1 L1663.3 1165.4 L1667.1 1157.4 L1670.8 1161.1 L1675.4 1156.8 L1680.1 1157.4 L1687.6 1146.2 L1692.2 1151.2 L1697.8 1151.8 L1703.4 1156.1 L1709.0 1157.4 L1716.4 1159.2 L1721.1 1157.4 L1729.4 1164.8 L1735.0 1167.6 L1738.8 1167.2 L1747.1 1149.9 L1751.8 1149.9" fill="none" stroke="#6F58A8" stroke-width="1.1" stroke-linejoin="round"/>
</g>
<text x="18.4" y="1112.3" font-size="12.2" fill="#131722" textLength="75.6" lengthAdjust="spacingAndGlyphs">RSI (14, close)</text>
<text x="101.8" y="1112.3" font-size="12.2" fill="#7E57C2" textLength="29.2" lengthAdjust="spacingAndGlyphs">47.89</text>
<text x="138.0" y="1112.3" font-size="12.2" fill="#F2E14C" textLength="29.0" lengthAdjust="spacingAndGlyphs">40.16</text>
<text x="175.7" y="1112.3" font-size="12.2" fill="#131722" textLength="7.0" lengthAdjust="spacingAndGlyphs">∅</text>
<text x="191.3" y="1112.3" font-size="12.2" fill="#131722" textLength="7.0" lengthAdjust="spacingAndGlyphs">∅</text>
<text x="206.0" y="1112.3" font-size="12.2" fill="#131722" textLength="7.0" lengthAdjust="spacingAndGlyphs">∅</text>
<text x="220.9" y="1112.3" font-size="12.2" fill="#131722" textLength="7.0" lengthAdjust="spacingAndGlyphs">∅</text>
<text x="1947" y="1123" font-size="12.2" fill="#131722">80.00</text>
<rect x="1939.0" y="1143.0" width="43.0" height="16.5" rx="2" fill="#7E57C2"/>
<text x="1947.5" y="1155.5" font-size="12.2" fill="#fff" textLength="29.5" lengthAdjust="spacingAndGlyphs" font-weight="bold">47.89</text>
<rect x="1939.0" y="1159.5" width="43.0" height="17.5" rx="2" fill="#F5E71C"/>
<text x="1947.5" y="1172.5" font-size="12.2" fill="#131722" textLength="29.5" lengthAdjust="spacingAndGlyphs" font-weight="bold">40.16</text>
<text x="99.2" y="1199" font-size="11.8" fill="#131722" text-anchor="middle">Nov</text><text x="226.7" y="1199" font-size="11.8" fill="#131722" text-anchor="middle">Dec</text><text x="358.4" y="1199" font-size="11.8" fill="#131722" text-anchor="middle" font-weight="bold">2025</text><text x="490.2" y="1199" font-size="11.8" fill="#131722" text-anchor="middle">Feb</text><text x="609.1" y="1199" font-size="11.8" fill="#131722" text-anchor="middle">Mar</text><text x="740.9" y="1199" font-size="11.8" fill="#131722" text-anchor="middle">Apr</text><text x="868.4" y="1199" font-size="11.8" fill="#131722" text-anchor="middle">May</text><text x="1000.1" y="1199" font-size="11.8" fill="#131722" text-anchor="middle">Jun</text><text x="1127.6" y="1199" font-size="11.8" fill="#131722" text-anchor="middle">Jul</text><text x="1259.3" y="1199" font-size="11.8" fill="#131722" text-anchor="middle">Aug</text><text x="1391.0" y="1199" font-size="11.8" fill="#131722" text-anchor="middle">Sep</text><text x="1518.5" y="1199" font-size="11.8" fill="#131722" text-anchor="middle">Oct</text><text x="1650.3" y="1199" font-size="11.8" fill="#131722" text-anchor="middle">Nov</text><text x="1777.8" y="1199" font-size="11.8" fill="#131722" text-anchor="middle">Dec</text><text x="1909.5" y="1199" font-size="11.8" fill="#131722" text-anchor="middle" font-weight="bold">2026</text>
<g fill="#131722"><path d="M12 1231.4H23.8V1245.8H17.9V1236.4H12Z"/><circle cx="29.6" cy="1233.9" r="2.8"/><path d="M33.8 1231.4H41.5L36.2 1245.8H29Z"/></g>
<text x="49.3" y="1245.8" font-size="20.6" font-weight="bold" fill="#131722" stroke="#131722" stroke-width="0.5" textLength="120" lengthAdjust="spacingAndGlyphs">TradingView</text>
</svg></body></html>
